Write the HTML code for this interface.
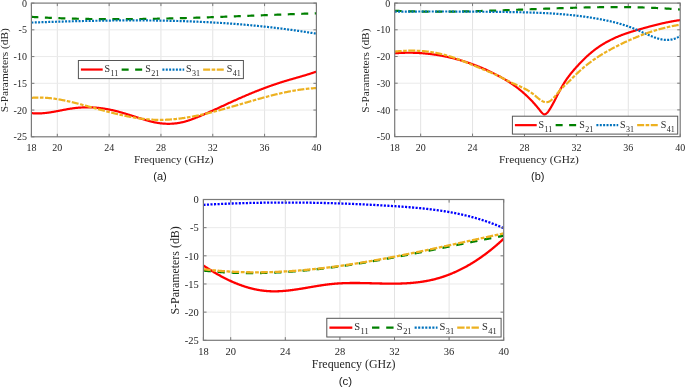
<!DOCTYPE html>
<html><head><meta charset="utf-8"><style>
html,body{margin:0;padding:0;background:#fff;}
body{width:685px;height:387px;overflow:hidden;}
svg{display:block;will-change:transform;}
.sf{font-family:"Liberation Serif",serif;fill:#262626;}
.ss{font-family:"Liberation Sans",sans-serif;fill:#1a1a1a;}
</style></head><body>
<svg width="685" height="387" viewBox="0 0 685 387">
<defs><clipPath id="clipa"><rect x="31.40" y="2.10" width="285.00" height="134.70"/></clipPath><clipPath id="clipb"><rect x="394.70" y="2.10" width="285.50" height="134.50"/></clipPath><clipPath id="clipc"><rect x="203.40" y="198.50" width="300.30" height="141.80"/></clipPath></defs>
<rect width="685" height="387" fill="#fff"/>
<path d="M57.31,3.10V136.80M109.13,3.10V136.80M160.95,3.10V136.80M212.76,3.10V136.80M264.58,3.10V136.80" stroke="#e3e3e3" stroke-width="1" fill="none"/>
<path d="M31.40,29.84H316.40M31.40,56.58H316.40M31.40,83.32H316.40M31.40,110.06H316.40" stroke="#eaeaea" stroke-width="1" fill="none"/>
<g clip-path="url(#clipa)">
<path d="M31.40,113.08 L31.90,113.14 L32.40,113.19 L32.90,113.24 L33.40,113.28 L33.90,113.31 L34.40,113.34 L34.90,113.37 L35.40,113.39 L35.90,113.41 L36.40,113.42 L36.90,113.43 L37.40,113.43 L37.90,113.43 L38.40,113.43 L38.90,113.42 L39.40,113.41 L39.90,113.39 L40.40,113.37 L40.90,113.35 L41.40,113.32 L41.90,113.29 L42.40,113.25 L42.90,113.22 L43.40,113.18 L43.90,113.13 L44.40,113.08 L44.90,113.03 L45.40,112.98 L45.90,112.93 L46.40,112.87 L46.90,112.81 L47.40,112.74 L47.90,112.68 L48.40,112.61 L48.90,112.54 L49.40,112.47 L49.90,112.39 L50.40,112.32 L50.90,112.24 L51.40,112.16 L51.90,112.08 L52.40,111.99 L52.90,111.91 L53.40,111.82 L53.90,111.73 L54.40,111.64 L54.90,111.55 L55.40,111.46 L55.90,111.37 L56.40,111.28 L56.90,111.19 L57.40,111.09 L57.90,111.00 L58.40,110.90 L58.90,110.81 L59.40,110.71 L59.90,110.61 L60.40,110.52 L60.90,110.42 L61.40,110.32 L61.90,110.23 L62.40,110.13 L62.90,110.04 L63.40,109.94 L63.90,109.85 L64.40,109.75 L64.90,109.66 L65.40,109.57 L65.90,109.47 L66.40,109.38 L66.90,109.29 L67.40,109.20 L67.90,109.12 L68.40,109.03 L68.90,108.95 L69.40,108.86 L69.90,108.78 L70.40,108.70 L70.90,108.62 L71.40,108.55 L71.90,108.47 L72.40,108.40 L72.90,108.33 L73.40,108.26 L73.90,108.20 L74.40,108.14 L74.90,108.08 L75.40,108.02 L75.90,107.96 L76.40,107.91 L76.90,107.86 L77.40,107.81 L77.90,107.76 L78.40,107.72 L78.90,107.68 L79.40,107.64 L79.90,107.60 L80.40,107.57 L80.90,107.53 L81.40,107.51 L81.90,107.48 L82.40,107.45 L82.90,107.43 L83.40,107.41 L83.90,107.39 L84.40,107.38 L84.90,107.36 L85.40,107.35 L85.90,107.34 L86.40,107.34 L86.90,107.34 L87.40,107.33 L87.90,107.33 L88.40,107.34 L88.90,107.34 L89.40,107.35 L89.90,107.36 L90.40,107.37 L90.90,107.39 L91.40,107.41 L91.90,107.43 L92.40,107.45 L92.90,107.47 L93.40,107.50 L93.90,107.53 L94.40,107.56 L94.90,107.59 L95.40,107.63 L95.90,107.67 L96.40,107.71 L96.90,107.75 L97.40,107.79 L97.90,107.84 L98.40,107.89 L98.90,107.94 L99.40,107.99 L99.90,108.05 L100.40,108.11 L100.90,108.17 L101.40,108.23 L101.90,108.30 L102.40,108.37 L102.90,108.44 L103.40,108.51 L103.90,108.58 L104.40,108.66 L104.90,108.74 L105.40,108.82 L105.90,108.90 L106.40,108.99 L106.90,109.07 L107.40,109.16 L107.90,109.26 L108.40,109.35 L108.90,109.45 L109.40,109.55 L109.90,109.65 L110.40,109.75 L110.90,109.86 L111.40,109.96 L111.90,110.07 L112.40,110.19 L112.90,110.30 L113.40,110.41 L113.90,110.53 L114.40,110.65 L114.90,110.77 L115.40,110.90 L115.90,111.02 L116.40,111.15 L116.90,111.28 L117.40,111.40 L117.90,111.54 L118.40,111.67 L118.90,111.80 L119.40,111.94 L119.90,112.08 L120.40,112.21 L120.90,112.35 L121.40,112.50 L121.90,112.64 L122.40,112.78 L122.90,112.93 L123.40,113.07 L123.90,113.22 L124.40,113.37 L124.90,113.52 L125.40,113.67 L125.90,113.82 L126.40,113.97 L126.90,114.12 L127.40,114.28 L127.90,114.43 L128.40,114.58 L128.90,114.74 L129.40,114.90 L129.90,115.05 L130.40,115.21 L130.90,115.37 L131.40,115.53 L131.90,115.69 L132.40,115.85 L132.90,116.00 L133.40,116.16 L133.90,116.32 L134.40,116.48 L134.90,116.65 L135.40,116.81 L135.90,116.97 L136.40,117.13 L136.90,117.29 L137.40,117.45 L137.90,117.61 L138.40,117.77 L138.90,117.93 L139.40,118.09 L139.90,118.25 L140.40,118.41 L140.90,118.57 L141.40,118.73 L141.90,118.89 L142.40,119.04 L142.90,119.20 L143.40,119.36 L143.90,119.51 L144.40,119.66 L144.90,119.82 L145.40,119.97 L145.90,120.11 L146.40,120.26 L146.90,120.41 L147.40,120.55 L147.90,120.69 L148.40,120.83 L148.90,120.97 L149.40,121.10 L149.90,121.24 L150.40,121.37 L150.90,121.50 L151.40,121.62 L151.90,121.74 L152.40,121.86 L152.90,121.98 L153.40,122.09 L153.90,122.20 L154.40,122.30 L154.90,122.41 L155.40,122.51 L155.90,122.60 L156.40,122.69 L156.90,122.78 L157.40,122.87 L157.90,122.95 L158.40,123.02 L158.90,123.10 L159.40,123.17 L159.90,123.24 L160.40,123.30 L160.90,123.36 L161.40,123.41 L161.90,123.46 L162.40,123.51 L162.90,123.56 L163.40,123.60 L163.90,123.64 L164.40,123.67 L164.90,123.70 L165.40,123.72 L165.90,123.74 L166.40,123.76 L166.90,123.78 L167.40,123.79 L167.90,123.79 L168.40,123.80 L168.90,123.79 L169.40,123.79 L169.90,123.78 L170.40,123.77 L170.90,123.75 L171.40,123.73 L171.90,123.70 L172.40,123.67 L172.90,123.64 L173.40,123.60 L173.90,123.56 L174.40,123.51 L174.90,123.46 L175.40,123.41 L175.90,123.35 L176.40,123.29 L176.90,123.22 L177.40,123.15 L177.90,123.08 L178.40,123.00 L178.90,122.91 L179.40,122.83 L179.90,122.74 L180.40,122.64 L180.90,122.54 L181.40,122.43 L181.90,122.32 L182.40,122.21 L182.90,122.09 L183.40,121.97 L183.90,121.85 L184.40,121.71 L184.90,121.58 L185.40,121.44 L185.90,121.30 L186.40,121.15 L186.90,121.00 L187.40,120.85 L187.90,120.69 L188.40,120.53 L188.90,120.36 L189.40,120.20 L189.90,120.03 L190.40,119.85 L190.90,119.68 L191.40,119.50 L191.90,119.32 L192.40,119.13 L192.90,118.95 L193.40,118.76 L193.90,118.57 L194.40,118.38 L194.90,118.18 L195.40,117.99 L195.90,117.79 L196.40,117.59 L196.90,117.39 L197.40,117.19 L197.90,116.98 L198.40,116.78 L198.90,116.57 L199.40,116.37 L199.90,116.16 L200.40,115.95 L200.90,115.74 L201.40,115.53 L201.90,115.32 L202.40,115.11 L202.90,114.89 L203.40,114.68 L203.90,114.47 L204.40,114.25 L204.90,114.03 L205.40,113.82 L205.90,113.60 L206.40,113.38 L206.90,113.16 L207.40,112.94 L207.90,112.72 L208.40,112.50 L208.90,112.27 L209.40,112.05 L209.90,111.83 L210.40,111.60 L210.90,111.38 L211.40,111.15 L211.90,110.93 L212.40,110.70 L212.90,110.48 L213.40,110.25 L213.90,110.02 L214.40,109.79 L214.90,109.56 L215.40,109.34 L215.90,109.11 L216.40,108.88 L216.90,108.65 L217.40,108.42 L217.90,108.19 L218.40,107.96 L218.90,107.73 L219.40,107.50 L219.90,107.27 L220.40,107.03 L220.90,106.80 L221.40,106.57 L221.90,106.34 L222.40,106.11 L222.90,105.88 L223.40,105.65 L223.90,105.41 L224.40,105.18 L224.90,104.95 L225.40,104.72 L225.90,104.49 L226.40,104.26 L226.90,104.03 L227.40,103.80 L227.90,103.57 L228.40,103.33 L228.90,103.10 L229.40,102.87 L229.90,102.64 L230.40,102.42 L230.90,102.19 L231.40,101.96 L231.90,101.73 L232.40,101.50 L232.90,101.27 L233.40,101.04 L233.90,100.82 L234.40,100.59 L234.90,100.37 L235.40,100.14 L235.90,99.91 L236.40,99.69 L236.90,99.47 L237.40,99.24 L237.90,99.02 L238.40,98.80 L238.90,98.58 L239.40,98.35 L239.90,98.13 L240.40,97.91 L240.90,97.69 L241.40,97.47 L241.90,97.26 L242.40,97.04 L242.90,96.82 L243.40,96.60 L243.90,96.39 L244.40,96.17 L244.90,95.96 L245.40,95.74 L245.90,95.53 L246.40,95.32 L246.90,95.10 L247.40,94.89 L247.90,94.68 L248.40,94.47 L248.90,94.26 L249.40,94.05 L249.90,93.84 L250.40,93.63 L250.90,93.43 L251.40,93.22 L251.90,93.01 L252.40,92.81 L252.90,92.60 L253.40,92.40 L253.90,92.20 L254.40,91.99 L254.90,91.79 L255.40,91.59 L255.90,91.39 L256.40,91.19 L256.90,90.99 L257.40,90.79 L257.90,90.60 L258.40,90.40 L258.90,90.20 L259.40,90.01 L259.90,89.81 L260.40,89.62 L260.90,89.43 L261.40,89.24 L261.90,89.04 L262.40,88.85 L262.90,88.66 L263.40,88.47 L263.90,88.29 L264.40,88.10 L264.90,87.91 L265.40,87.73 L265.90,87.54 L266.40,87.36 L266.90,87.17 L267.40,86.99 L267.90,86.81 L268.40,86.63 L268.90,86.45 L269.40,86.27 L269.90,86.09 L270.40,85.91 L270.90,85.73 L271.40,85.56 L271.90,85.38 L272.40,85.21 L272.90,85.04 L273.40,84.86 L273.90,84.69 L274.40,84.52 L274.90,84.35 L275.40,84.18 L275.90,84.02 L276.40,83.85 L276.90,83.68 L277.40,83.52 L277.90,83.35 L278.40,83.19 L278.90,83.03 L279.40,82.87 L279.90,82.71 L280.40,82.55 L280.90,82.39 L281.40,82.23 L281.90,82.07 L282.40,81.92 L282.90,81.76 L283.40,81.61 L283.90,81.46 L284.40,81.30 L284.90,81.15 L285.40,81.00 L285.90,80.85 L286.40,80.70 L286.90,80.55 L287.40,80.41 L287.90,80.26 L288.40,80.11 L288.90,79.97 L289.40,79.82 L289.90,79.67 L290.40,79.53 L290.90,79.39 L291.40,79.24 L291.90,79.10 L292.40,78.95 L292.90,78.81 L293.40,78.67 L293.90,78.52 L294.40,78.38 L294.90,78.24 L295.40,78.09 L295.90,77.95 L296.40,77.81 L296.90,77.66 L297.40,77.52 L297.90,77.38 L298.40,77.23 L298.90,77.09 L299.40,76.95 L299.90,76.80 L300.40,76.66 L300.90,76.51 L301.40,76.37 L301.90,76.22 L302.40,76.07 L302.90,75.93 L303.40,75.78 L303.90,75.63 L304.40,75.48 L304.90,75.33 L305.40,75.18 L305.90,75.03 L306.40,74.88 L306.90,74.72 L307.40,74.57 L307.90,74.42 L308.40,74.26 L308.90,74.11 L309.40,73.95 L309.90,73.79 L310.40,73.63 L310.90,73.47 L311.40,73.31 L311.90,73.15 L312.40,72.98 L312.90,72.82 L313.40,72.65 L313.90,72.48 L314.40,72.31 L314.90,72.14 L315.40,71.97 L315.90,71.80 L316.40,71.62" stroke="#ff0000" stroke-width="2.20" fill="none"/>
<path d="M31.40,16.87 L31.90,16.90 L32.40,16.93 L32.90,16.95 L33.40,16.98 L33.90,17.01 L34.40,17.04 L34.90,17.07 L35.40,17.10 L35.90,17.13 L36.40,17.15 L36.90,17.18 L37.40,17.21 L37.90,17.24 L38.40,17.26 L38.90,17.29 L39.40,17.32 L39.90,17.34 L40.40,17.37 L40.90,17.39 L41.40,17.42 L41.90,17.44 L42.40,17.47 L42.90,17.49 L43.40,17.52 L43.90,17.54 L44.40,17.57 L44.90,17.59 L45.40,17.62 L45.90,17.64 L46.40,17.66 L46.90,17.69 L47.40,17.71 L47.90,17.73 L48.40,17.76 L48.90,17.78 L49.40,17.80 L49.90,17.82 L50.40,17.85 L50.90,17.87 L51.40,17.89 L51.90,17.91 L52.40,17.93 L52.90,17.95 L53.40,17.97 L53.90,17.99 L54.40,18.01 L54.90,18.03 L55.40,18.05 L55.90,18.07 L56.40,18.09 L56.90,18.11 L57.40,18.13 L57.90,18.15 L58.40,18.17 L58.90,18.19 L59.40,18.21 L59.90,18.22 L60.40,18.24 L60.90,18.26 L61.40,18.28 L61.90,18.30 L62.40,18.31 L62.90,18.33 L63.40,18.35 L63.90,18.36 L64.40,18.38 L64.90,18.40 L65.40,18.41 L65.90,18.43 L66.40,18.44 L66.90,18.46 L67.40,18.47 L67.90,18.49 L68.40,18.51 L68.90,18.52 L69.40,18.53 L69.90,18.55 L70.40,18.56 L70.90,18.58 L71.40,18.59 L71.90,18.61 L72.40,18.62 L72.90,18.63 L73.40,18.65 L73.90,18.66 L74.40,18.67 L74.90,18.68 L75.40,18.70 L75.90,18.71 L76.40,18.72 L76.90,18.73 L77.40,18.74 L77.90,18.76 L78.40,18.77 L78.90,18.78 L79.40,18.79 L79.90,18.80 L80.40,18.81 L80.90,18.82 L81.40,18.83 L81.90,18.84 L82.40,18.85 L82.90,18.86 L83.40,18.87 L83.90,18.88 L84.40,18.89 L84.90,18.90 L85.40,18.91 L85.90,18.92 L86.40,18.93 L86.90,18.94 L87.40,18.95 L87.90,18.95 L88.40,18.96 L88.90,18.97 L89.40,18.98 L89.90,18.98 L90.40,18.99 L90.90,19.00 L91.40,19.01 L91.90,19.01 L92.40,19.02 L92.90,19.03 L93.40,19.03 L93.90,19.04 L94.40,19.05 L94.90,19.05 L95.40,19.06 L95.90,19.06 L96.40,19.07 L96.90,19.07 L97.40,19.08 L97.90,19.08 L98.40,19.09 L98.90,19.09 L99.40,19.10 L99.90,19.10 L100.40,19.11 L100.90,19.11 L101.40,19.12 L101.90,19.12 L102.40,19.12 L102.90,19.13 L103.40,19.13 L103.90,19.13 L104.40,19.14 L104.90,19.14 L105.40,19.14 L105.90,19.15 L106.40,19.15 L106.90,19.15 L107.40,19.15 L107.90,19.15 L108.40,19.16 L108.90,19.16 L109.40,19.16 L109.90,19.16 L110.40,19.16 L110.90,19.16 L111.40,19.17 L111.90,19.17 L112.40,19.17 L112.90,19.17 L113.40,19.17 L113.90,19.17 L114.40,19.17 L114.90,19.17 L115.40,19.17 L115.90,19.17 L116.40,19.17 L116.90,19.17 L117.40,19.17 L117.90,19.17 L118.40,19.17 L118.90,19.16 L119.40,19.16 L119.90,19.16 L120.40,19.16 L120.90,19.16 L121.40,19.16 L121.90,19.16 L122.40,19.15 L122.90,19.15 L123.40,19.15 L123.90,19.15 L124.40,19.15 L124.90,19.14 L125.40,19.14 L125.90,19.14 L126.40,19.13 L126.90,19.13 L127.40,19.13 L127.90,19.12 L128.40,19.12 L128.90,19.12 L129.40,19.11 L129.90,19.11 L130.40,19.11 L130.90,19.10 L131.40,19.10 L131.90,19.09 L132.40,19.09 L132.90,19.08 L133.40,19.08 L133.90,19.08 L134.40,19.07 L134.90,19.07 L135.40,19.06 L135.90,19.05 L136.40,19.05 L136.90,19.04 L137.40,19.04 L137.90,19.03 L138.40,19.03 L138.90,19.02 L139.40,19.01 L139.90,19.01 L140.40,19.00 L140.90,19.00 L141.40,18.99 L141.90,18.98 L142.40,18.98 L142.90,18.97 L143.40,18.96 L143.90,18.95 L144.40,18.95 L144.90,18.94 L145.40,18.93 L145.90,18.93 L146.40,18.92 L146.90,18.91 L147.40,18.90 L147.90,18.89 L148.40,18.89 L148.90,18.88 L149.40,18.87 L149.90,18.86 L150.40,18.85 L150.90,18.84 L151.40,18.84 L151.90,18.83 L152.40,18.82 L152.90,18.81 L153.40,18.80 L153.90,18.79 L154.40,18.78 L154.90,18.77 L155.40,18.76 L155.90,18.75 L156.40,18.74 L156.90,18.73 L157.40,18.72 L157.90,18.71 L158.40,18.70 L158.90,18.69 L159.40,18.68 L159.90,18.67 L160.40,18.66 L160.90,18.65 L161.40,18.64 L161.90,18.63 L162.40,18.62 L162.90,18.61 L163.40,18.60 L163.90,18.59 L164.40,18.58 L164.90,18.56 L165.40,18.55 L165.90,18.54 L166.40,18.53 L166.90,18.52 L167.40,18.51 L167.90,18.50 L168.40,18.48 L168.90,18.47 L169.40,18.46 L169.90,18.45 L170.40,18.44 L170.90,18.42 L171.40,18.41 L171.90,18.40 L172.40,18.39 L172.90,18.37 L173.40,18.36 L173.90,18.35 L174.40,18.33 L174.90,18.32 L175.40,18.31 L175.90,18.30 L176.40,18.28 L176.90,18.27 L177.40,18.26 L177.90,18.24 L178.40,18.23 L178.90,18.22 L179.40,18.20 L179.90,18.19 L180.40,18.17 L180.90,18.16 L181.40,18.15 L181.90,18.13 L182.40,18.12 L182.90,18.10 L183.40,18.09 L183.90,18.08 L184.40,18.06 L184.90,18.05 L185.40,18.03 L185.90,18.02 L186.40,18.00 L186.90,17.99 L187.40,17.97 L187.90,17.96 L188.40,17.94 L188.90,17.93 L189.40,17.91 L189.90,17.90 L190.40,17.88 L190.90,17.87 L191.40,17.85 L191.90,17.84 L192.40,17.82 L192.90,17.81 L193.40,17.79 L193.90,17.78 L194.40,17.76 L194.90,17.74 L195.40,17.73 L195.90,17.71 L196.40,17.70 L196.90,17.68 L197.40,17.66 L197.90,17.65 L198.40,17.63 L198.90,17.62 L199.40,17.60 L199.90,17.58 L200.40,17.57 L200.90,17.55 L201.40,17.53 L201.90,17.52 L202.40,17.50 L202.90,17.48 L203.40,17.47 L203.90,17.45 L204.40,17.43 L204.90,17.42 L205.40,17.40 L205.90,17.38 L206.40,17.37 L206.90,17.35 L207.40,17.33 L207.90,17.31 L208.40,17.30 L208.90,17.28 L209.40,17.26 L209.90,17.25 L210.40,17.23 L210.90,17.21 L211.40,17.19 L211.90,17.18 L212.40,17.16 L212.90,17.14 L213.40,17.12 L213.90,17.11 L214.40,17.09 L214.90,17.07 L215.40,17.05 L215.90,17.03 L216.40,17.02 L216.90,17.00 L217.40,16.98 L217.90,16.96 L218.40,16.94 L218.90,16.93 L219.40,16.91 L219.90,16.89 L220.40,16.87 L220.90,16.85 L221.40,16.84 L221.90,16.82 L222.40,16.80 L222.90,16.78 L223.40,16.76 L223.90,16.74 L224.40,16.73 L224.90,16.71 L225.40,16.69 L225.90,16.67 L226.40,16.65 L226.90,16.63 L227.40,16.61 L227.90,16.60 L228.40,16.58 L228.90,16.56 L229.40,16.54 L229.90,16.52 L230.40,16.50 L230.90,16.48 L231.40,16.46 L231.90,16.45 L232.40,16.43 L232.90,16.41 L233.40,16.39 L233.90,16.37 L234.40,16.35 L234.90,16.33 L235.40,16.31 L235.90,16.29 L236.40,16.27 L236.90,16.26 L237.40,16.24 L237.90,16.22 L238.40,16.20 L238.90,16.18 L239.40,16.16 L239.90,16.14 L240.40,16.12 L240.90,16.10 L241.40,16.08 L241.90,16.06 L242.40,16.04 L242.90,16.03 L243.40,16.01 L243.90,15.99 L244.40,15.97 L244.90,15.95 L245.40,15.93 L245.90,15.91 L246.40,15.89 L246.90,15.87 L247.40,15.85 L247.90,15.83 L248.40,15.81 L248.90,15.79 L249.40,15.77 L249.90,15.75 L250.40,15.73 L250.90,15.72 L251.40,15.70 L251.90,15.68 L252.40,15.66 L252.90,15.64 L253.40,15.62 L253.90,15.60 L254.40,15.58 L254.90,15.56 L255.40,15.54 L255.90,15.52 L256.40,15.50 L256.90,15.48 L257.40,15.46 L257.90,15.44 L258.40,15.42 L258.90,15.40 L259.40,15.38 L259.90,15.36 L260.40,15.35 L260.90,15.33 L261.40,15.31 L261.90,15.29 L262.40,15.27 L262.90,15.25 L263.40,15.23 L263.90,15.21 L264.40,15.19 L264.90,15.17 L265.40,15.15 L265.90,15.13 L266.40,15.11 L266.90,15.09 L267.40,15.07 L267.90,15.05 L268.40,15.04 L268.90,15.02 L269.40,15.00 L269.90,14.98 L270.40,14.96 L270.90,14.94 L271.40,14.92 L271.90,14.90 L272.40,14.88 L272.90,14.86 L273.40,14.84 L273.90,14.82 L274.40,14.80 L274.90,14.78 L275.40,14.77 L275.90,14.75 L276.40,14.73 L276.90,14.71 L277.40,14.69 L277.90,14.67 L278.40,14.65 L278.90,14.63 L279.40,14.61 L279.90,14.59 L280.40,14.58 L280.90,14.56 L281.40,14.54 L281.90,14.52 L282.40,14.50 L282.90,14.48 L283.40,14.46 L283.90,14.44 L284.40,14.43 L284.90,14.41 L285.40,14.39 L285.90,14.37 L286.40,14.35 L286.90,14.33 L287.40,14.31 L287.90,14.29 L288.40,14.28 L288.90,14.26 L289.40,14.24 L289.90,14.22 L290.40,14.20 L290.90,14.18 L291.40,14.17 L291.90,14.15 L292.40,14.13 L292.90,14.11 L293.40,14.09 L293.90,14.07 L294.40,14.06 L294.90,14.04 L295.40,14.02 L295.90,14.00 L296.40,13.98 L296.90,13.97 L297.40,13.95 L297.90,13.93 L298.40,13.91 L298.90,13.90 L299.40,13.88 L299.90,13.86 L300.40,13.84 L300.90,13.83 L301.40,13.81 L301.90,13.79 L302.40,13.77 L302.90,13.76 L303.40,13.74 L303.90,13.72 L304.40,13.70 L304.90,13.69 L305.40,13.67 L305.90,13.65 L306.40,13.63 L306.90,13.62 L307.40,13.60 L307.90,13.58 L308.40,13.57 L308.90,13.55 L309.40,13.53 L309.90,13.52 L310.40,13.50 L310.90,13.48 L311.40,13.47 L311.90,13.45 L312.40,13.43 L312.90,13.42 L313.40,13.40 L313.90,13.38 L314.40,13.37 L314.90,13.35 L315.40,13.34 L315.90,13.32 L316.40,13.30" stroke="#008000" stroke-width="2.20" fill="none" stroke-dasharray="7.00 6.50"/>
<path d="M31.40,22.56 L31.90,22.54 L32.40,22.52 L32.90,22.51 L33.40,22.49 L33.90,22.47 L34.40,22.45 L34.90,22.44 L35.40,22.42 L35.90,22.40 L36.40,22.38 L36.90,22.37 L37.40,22.35 L37.90,22.33 L38.40,22.32 L38.90,22.30 L39.40,22.28 L39.90,22.26 L40.40,22.25 L40.90,22.23 L41.40,22.21 L41.90,22.20 L42.40,22.18 L42.90,22.16 L43.40,22.15 L43.90,22.13 L44.40,22.11 L44.90,22.10 L45.40,22.08 L45.90,22.06 L46.40,22.05 L46.90,22.03 L47.40,22.01 L47.90,22.00 L48.40,21.98 L48.90,21.97 L49.40,21.95 L49.90,21.93 L50.40,21.92 L50.90,21.90 L51.40,21.89 L51.90,21.87 L52.40,21.85 L52.90,21.84 L53.40,21.82 L53.90,21.81 L54.40,21.79 L54.90,21.78 L55.40,21.76 L55.90,21.75 L56.40,21.73 L56.90,21.71 L57.40,21.70 L57.90,21.68 L58.40,21.67 L58.90,21.65 L59.40,21.64 L59.90,21.62 L60.40,21.61 L60.90,21.59 L61.40,21.58 L61.90,21.57 L62.40,21.55 L62.90,21.54 L63.40,21.52 L63.90,21.51 L64.40,21.49 L64.90,21.48 L65.40,21.47 L65.90,21.45 L66.40,21.44 L66.90,21.42 L67.40,21.41 L67.90,21.40 L68.40,21.38 L68.90,21.37 L69.40,21.35 L69.90,21.34 L70.40,21.33 L70.90,21.31 L71.40,21.30 L71.90,21.29 L72.40,21.27 L72.90,21.26 L73.40,21.25 L73.90,21.24 L74.40,21.22 L74.90,21.21 L75.40,21.20 L75.90,21.18 L76.40,21.17 L76.90,21.16 L77.40,21.15 L77.90,21.14 L78.40,21.12 L78.90,21.11 L79.40,21.10 L79.90,21.09 L80.40,21.08 L80.90,21.06 L81.40,21.05 L81.90,21.04 L82.40,21.03 L82.90,21.02 L83.40,21.01 L83.90,21.00 L84.40,20.98 L84.90,20.97 L85.40,20.96 L85.90,20.95 L86.40,20.94 L86.90,20.93 L87.40,20.92 L87.90,20.91 L88.40,20.90 L88.90,20.89 L89.40,20.88 L89.90,20.87 L90.40,20.86 L90.90,20.85 L91.40,20.84 L91.90,20.83 L92.40,20.82 L92.90,20.81 L93.40,20.80 L93.90,20.79 L94.40,20.78 L94.90,20.77 L95.40,20.76 L95.90,20.75 L96.40,20.74 L96.90,20.74 L97.40,20.73 L97.90,20.72 L98.40,20.71 L98.90,20.70 L99.40,20.69 L99.90,20.69 L100.40,20.68 L100.90,20.67 L101.40,20.66 L101.90,20.65 L102.40,20.65 L102.90,20.64 L103.40,20.63 L103.90,20.62 L104.40,20.62 L104.90,20.61 L105.40,20.60 L105.90,20.60 L106.40,20.59 L106.90,20.58 L107.40,20.58 L107.90,20.57 L108.40,20.56 L108.90,20.56 L109.40,20.55 L109.90,20.54 L110.40,20.54 L110.90,20.53 L111.40,20.53 L111.90,20.52 L112.40,20.52 L112.90,20.51 L113.40,20.51 L113.90,20.50 L114.40,20.50 L114.90,20.49 L115.40,20.49 L115.90,20.48 L116.40,20.48 L116.90,20.47 L117.40,20.47 L117.90,20.47 L118.40,20.46 L118.90,20.46 L119.40,20.45 L119.90,20.45 L120.40,20.45 L120.90,20.44 L121.40,20.44 L121.90,20.44 L122.40,20.43 L122.90,20.43 L123.40,20.43 L123.90,20.43 L124.40,20.42 L124.90,20.42 L125.40,20.42 L125.90,20.42 L126.40,20.41 L126.90,20.41 L127.40,20.41 L127.90,20.41 L128.40,20.41 L128.90,20.41 L129.40,20.41 L129.90,20.40 L130.40,20.40 L130.90,20.40 L131.40,20.40 L131.90,20.40 L132.40,20.40 L132.90,20.40 L133.40,20.40 L133.90,20.40 L134.40,20.40 L134.90,20.40 L135.40,20.40 L135.90,20.40 L136.40,20.40 L136.90,20.41 L137.40,20.41 L137.90,20.41 L138.40,20.41 L138.90,20.41 L139.40,20.41 L139.90,20.41 L140.40,20.42 L140.90,20.42 L141.40,20.42 L141.90,20.42 L142.40,20.42 L142.90,20.43 L143.40,20.43 L143.90,20.43 L144.40,20.44 L144.90,20.44 L145.40,20.44 L145.90,20.45 L146.40,20.45 L146.90,20.45 L147.40,20.46 L147.90,20.46 L148.40,20.47 L148.90,20.47 L149.40,20.48 L149.90,20.48 L150.40,20.48 L150.90,20.49 L151.40,20.49 L151.90,20.50 L152.40,20.51 L152.90,20.51 L153.40,20.52 L153.90,20.52 L154.40,20.53 L154.90,20.54 L155.40,20.54 L155.90,20.55 L156.40,20.56 L156.90,20.56 L157.40,20.57 L157.90,20.58 L158.40,20.58 L158.90,20.59 L159.40,20.60 L159.90,20.61 L160.40,20.62 L160.90,20.62 L161.40,20.63 L161.90,20.64 L162.40,20.65 L162.90,20.66 L163.40,20.67 L163.90,20.68 L164.40,20.69 L164.90,20.70 L165.40,20.71 L165.90,20.72 L166.40,20.73 L166.90,20.74 L167.40,20.75 L167.90,20.76 L168.40,20.77 L168.90,20.78 L169.40,20.79 L169.90,20.80 L170.40,20.81 L170.90,20.82 L171.40,20.84 L171.90,20.85 L172.40,20.86 L172.90,20.87 L173.40,20.89 L173.90,20.90 L174.40,20.91 L174.90,20.92 L175.40,20.94 L175.90,20.95 L176.40,20.96 L176.90,20.98 L177.40,20.99 L177.90,21.01 L178.40,21.02 L178.90,21.03 L179.40,21.05 L179.90,21.06 L180.40,21.08 L180.90,21.09 L181.40,21.11 L181.90,21.13 L182.40,21.14 L182.90,21.16 L183.40,21.17 L183.90,21.19 L184.40,21.21 L184.90,21.22 L185.40,21.24 L185.90,21.26 L186.40,21.27 L186.90,21.29 L187.40,21.31 L187.90,21.33 L188.40,21.35 L188.90,21.36 L189.40,21.38 L189.90,21.40 L190.40,21.42 L190.90,21.44 L191.40,21.46 L191.90,21.48 L192.40,21.50 L192.90,21.52 L193.40,21.54 L193.90,21.56 L194.40,21.58 L194.90,21.60 L195.40,21.62 L195.90,21.64 L196.40,21.66 L196.90,21.68 L197.40,21.70 L197.90,21.73 L198.40,21.75 L198.90,21.77 L199.40,21.79 L199.90,21.82 L200.40,21.84 L200.90,21.86 L201.40,21.88 L201.90,21.91 L202.40,21.93 L202.90,21.96 L203.40,21.98 L203.90,22.00 L204.40,22.03 L204.90,22.05 L205.40,22.08 L205.90,22.10 L206.40,22.13 L206.90,22.15 L207.40,22.18 L207.90,22.20 L208.40,22.23 L208.90,22.26 L209.40,22.28 L209.90,22.31 L210.40,22.34 L210.90,22.37 L211.40,22.39 L211.90,22.42 L212.40,22.45 L212.90,22.48 L213.40,22.50 L213.90,22.53 L214.40,22.56 L214.90,22.59 L215.40,22.62 L215.90,22.65 L216.40,22.68 L216.90,22.71 L217.40,22.74 L217.90,22.77 L218.40,22.80 L218.90,22.83 L219.40,22.86 L219.90,22.89 L220.40,22.92 L220.90,22.96 L221.40,22.99 L221.90,23.02 L222.40,23.05 L222.90,23.08 L223.40,23.12 L223.90,23.15 L224.40,23.18 L224.90,23.22 L225.40,23.25 L225.90,23.28 L226.40,23.32 L226.90,23.35 L227.40,23.39 L227.90,23.42 L228.40,23.46 L228.90,23.49 L229.40,23.53 L229.90,23.56 L230.40,23.60 L230.90,23.64 L231.40,23.67 L231.90,23.71 L232.40,23.75 L232.90,23.78 L233.40,23.82 L233.90,23.86 L234.40,23.90 L234.90,23.93 L235.40,23.97 L235.90,24.01 L236.40,24.05 L236.90,24.09 L237.40,24.13 L237.90,24.17 L238.40,24.21 L238.90,24.25 L239.40,24.29 L239.90,24.33 L240.40,24.37 L240.90,24.41 L241.40,24.45 L241.90,24.49 L242.40,24.53 L242.90,24.58 L243.40,24.62 L243.90,24.66 L244.40,24.70 L244.90,24.75 L245.40,24.79 L245.90,24.83 L246.40,24.88 L246.90,24.92 L247.40,24.96 L247.90,25.01 L248.40,25.05 L248.90,25.10 L249.40,25.14 L249.90,25.19 L250.40,25.23 L250.90,25.28 L251.40,25.33 L251.90,25.37 L252.40,25.42 L252.90,25.47 L253.40,25.51 L253.90,25.56 L254.40,25.61 L254.90,25.66 L255.40,25.71 L255.90,25.75 L256.40,25.80 L256.90,25.85 L257.40,25.90 L257.90,25.95 L258.40,26.00 L258.90,26.05 L259.40,26.10 L259.90,26.15 L260.40,26.20 L260.90,26.25 L261.40,26.31 L261.90,26.36 L262.40,26.41 L262.90,26.46 L263.40,26.51 L263.90,26.57 L264.40,26.62 L264.90,26.67 L265.40,26.73 L265.90,26.78 L266.40,26.84 L266.90,26.89 L267.40,26.94 L267.90,27.00 L268.40,27.05 L268.90,27.11 L269.40,27.17 L269.90,27.22 L270.40,27.28 L270.90,27.33 L271.40,27.39 L271.90,27.45 L272.40,27.51 L272.90,27.56 L273.40,27.62 L273.90,27.68 L274.40,27.74 L274.90,27.80 L275.40,27.86 L275.90,27.91 L276.40,27.97 L276.90,28.03 L277.40,28.09 L277.90,28.16 L278.40,28.22 L278.90,28.28 L279.40,28.34 L279.90,28.40 L280.40,28.46 L280.90,28.52 L281.40,28.59 L281.90,28.65 L282.40,28.71 L282.90,28.78 L283.40,28.84 L283.90,28.90 L284.40,28.97 L284.90,29.03 L285.40,29.10 L285.90,29.16 L286.40,29.23 L286.90,29.29 L287.40,29.36 L287.90,29.42 L288.40,29.49 L288.90,29.56 L289.40,29.62 L289.90,29.69 L290.40,29.76 L290.90,29.83 L291.40,29.90 L291.90,29.96 L292.40,30.03 L292.90,30.10 L293.40,30.17 L293.90,30.24 L294.40,30.31 L294.90,30.38 L295.40,30.45 L295.90,30.52 L296.40,30.59 L296.90,30.67 L297.40,30.74 L297.90,30.81 L298.40,30.88 L298.90,30.95 L299.40,31.03 L299.90,31.10 L300.40,31.17 L300.90,31.25 L301.40,31.32 L301.90,31.40 L302.40,31.47 L302.90,31.55 L303.40,31.62 L303.90,31.70 L304.40,31.77 L304.90,31.85 L305.40,31.93 L305.90,32.00 L306.40,32.08 L306.90,32.16 L307.40,32.24 L307.90,32.31 L308.40,32.39 L308.90,32.47 L309.40,32.55 L309.90,32.63 L310.40,32.71 L310.90,32.79 L311.40,32.87 L311.90,32.95 L312.40,33.03 L312.90,33.11 L313.40,33.20 L313.90,33.28 L314.40,33.36 L314.90,33.44 L315.40,33.53 L315.90,33.61 L316.40,33.69" stroke="#0072bd" stroke-width="2.20" fill="none" stroke-dasharray="2.00 1.37"/>
<path d="M31.40,97.87 L31.90,97.82 L32.40,97.78 L32.90,97.75 L33.40,97.72 L33.90,97.69 L34.40,97.66 L34.90,97.63 L35.40,97.61 L35.90,97.60 L36.40,97.58 L36.90,97.57 L37.40,97.56 L37.90,97.55 L38.40,97.55 L38.90,97.54 L39.40,97.55 L39.90,97.55 L40.40,97.56 L40.90,97.57 L41.40,97.58 L41.90,97.59 L42.40,97.61 L42.90,97.63 L43.40,97.65 L43.90,97.67 L44.40,97.70 L44.90,97.73 L45.40,97.76 L45.90,97.79 L46.40,97.83 L46.90,97.87 L47.40,97.91 L47.90,97.95 L48.40,98.00 L48.90,98.04 L49.40,98.09 L49.90,98.15 L50.40,98.20 L50.90,98.26 L51.40,98.31 L51.90,98.37 L52.40,98.43 L52.90,98.50 L53.40,98.56 L53.90,98.63 L54.40,98.70 L54.90,98.77 L55.40,98.85 L55.90,98.92 L56.40,99.00 L56.90,99.08 L57.40,99.16 L57.90,99.24 L58.40,99.32 L58.90,99.41 L59.40,99.50 L59.90,99.59 L60.40,99.68 L60.90,99.77 L61.40,99.86 L61.90,99.96 L62.40,100.05 L62.90,100.15 L63.40,100.25 L63.90,100.35 L64.40,100.45 L64.90,100.56 L65.40,100.66 L65.90,100.77 L66.40,100.88 L66.90,100.98 L67.40,101.09 L67.90,101.20 L68.40,101.32 L68.90,101.43 L69.40,101.54 L69.90,101.66 L70.40,101.78 L70.90,101.89 L71.40,102.01 L71.90,102.13 L72.40,102.25 L72.90,102.37 L73.40,102.50 L73.90,102.62 L74.40,102.74 L74.90,102.87 L75.40,102.99 L75.90,103.12 L76.40,103.25 L76.90,103.37 L77.40,103.50 L77.90,103.63 L78.40,103.76 L78.90,103.89 L79.40,104.02 L79.90,104.15 L80.40,104.29 L80.90,104.42 L81.40,104.55 L81.90,104.69 L82.40,104.82 L82.90,104.95 L83.40,105.09 L83.90,105.22 L84.40,105.36 L84.90,105.49 L85.40,105.63 L85.90,105.77 L86.40,105.90 L86.90,106.04 L87.40,106.18 L87.90,106.31 L88.40,106.45 L88.90,106.59 L89.40,106.72 L89.90,106.86 L90.40,107.00 L90.90,107.14 L91.40,107.27 L91.90,107.41 L92.40,107.55 L92.90,107.69 L93.40,107.82 L93.90,107.96 L94.40,108.10 L94.90,108.24 L95.40,108.37 L95.90,108.51 L96.40,108.65 L96.90,108.79 L97.40,108.92 L97.90,109.06 L98.40,109.20 L98.90,109.33 L99.40,109.47 L99.90,109.61 L100.40,109.74 L100.90,109.88 L101.40,110.01 L101.90,110.15 L102.40,110.28 L102.90,110.42 L103.40,110.55 L103.90,110.69 L104.40,110.82 L104.90,110.95 L105.40,111.09 L105.90,111.22 L106.40,111.35 L106.90,111.48 L107.40,111.61 L107.90,111.74 L108.40,111.87 L108.90,112.00 L109.40,112.13 L109.90,112.26 L110.40,112.39 L110.90,112.52 L111.40,112.65 L111.90,112.77 L112.40,112.90 L112.90,113.02 L113.40,113.15 L113.90,113.27 L114.40,113.40 L114.90,113.52 L115.40,113.64 L115.90,113.76 L116.40,113.88 L116.90,114.00 L117.40,114.12 L117.90,114.24 L118.40,114.36 L118.90,114.48 L119.40,114.59 L119.90,114.71 L120.40,114.82 L120.90,114.94 L121.40,115.05 L121.90,115.16 L122.40,115.27 L122.90,115.38 L123.40,115.49 L123.90,115.60 L124.40,115.70 L124.90,115.81 L125.40,115.92 L125.90,116.02 L126.40,116.12 L126.90,116.23 L127.40,116.33 L127.90,116.43 L128.40,116.53 L128.90,116.62 L129.40,116.72 L129.90,116.81 L130.40,116.91 L130.90,117.00 L131.40,117.09 L131.90,117.19 L132.40,117.27 L132.90,117.36 L133.40,117.45 L133.90,117.54 L134.40,117.62 L134.90,117.70 L135.40,117.79 L135.90,117.87 L136.40,117.95 L136.90,118.02 L137.40,118.10 L137.90,118.17 L138.40,118.25 L138.90,118.32 L139.40,118.39 L139.90,118.46 L140.40,118.53 L140.90,118.60 L141.40,118.66 L141.90,118.72 L142.40,118.79 L142.90,118.85 L143.40,118.90 L143.90,118.96 L144.40,119.02 L144.90,119.07 L145.40,119.12 L145.90,119.18 L146.40,119.22 L146.90,119.27 L147.40,119.32 L147.90,119.36 L148.40,119.40 L148.90,119.44 L149.40,119.48 L149.90,119.52 L150.40,119.56 L150.90,119.59 L151.40,119.62 L151.90,119.65 L152.40,119.68 L152.90,119.71 L153.40,119.73 L153.90,119.75 L154.40,119.77 L154.90,119.79 L155.40,119.81 L155.90,119.82 L156.40,119.84 L156.90,119.85 L157.40,119.86 L157.90,119.86 L158.40,119.87 L158.90,119.87 L159.40,119.88 L159.90,119.88 L160.40,119.87 L160.90,119.87 L161.40,119.87 L161.90,119.86 L162.40,119.85 L162.90,119.84 L163.40,119.83 L163.90,119.81 L164.40,119.80 L164.90,119.78 L165.40,119.76 L165.90,119.74 L166.40,119.72 L166.90,119.70 L167.40,119.67 L167.90,119.64 L168.40,119.62 L168.90,119.59 L169.40,119.55 L169.90,119.52 L170.40,119.49 L170.90,119.45 L171.40,119.41 L171.90,119.37 L172.40,119.33 L172.90,119.29 L173.40,119.24 L173.90,119.20 L174.40,119.15 L174.90,119.10 L175.40,119.05 L175.90,119.00 L176.40,118.95 L176.90,118.89 L177.40,118.84 L177.90,118.78 L178.40,118.72 L178.90,118.66 L179.40,118.60 L179.90,118.54 L180.40,118.47 L180.90,118.41 L181.40,118.34 L181.90,118.27 L182.40,118.20 L182.90,118.13 L183.40,118.06 L183.90,117.99 L184.40,117.91 L184.90,117.84 L185.40,117.76 L185.90,117.68 L186.40,117.60 L186.90,117.52 L187.40,117.44 L187.90,117.36 L188.40,117.27 L188.90,117.19 L189.40,117.10 L189.90,117.02 L190.40,116.93 L190.90,116.84 L191.40,116.75 L191.90,116.65 L192.40,116.56 L192.90,116.47 L193.40,116.37 L193.90,116.28 L194.40,116.18 L194.90,116.08 L195.40,115.98 L195.90,115.88 L196.40,115.78 L196.90,115.68 L197.40,115.57 L197.90,115.47 L198.40,115.36 L198.90,115.26 L199.40,115.15 L199.90,115.04 L200.40,114.93 L200.90,114.82 L201.40,114.71 L201.90,114.60 L202.40,114.49 L202.90,114.37 L203.40,114.26 L203.90,114.14 L204.40,114.03 L204.90,113.91 L205.40,113.79 L205.90,113.68 L206.40,113.56 L206.90,113.44 L207.40,113.32 L207.90,113.20 L208.40,113.07 L208.90,112.95 L209.40,112.83 L209.90,112.70 L210.40,112.58 L210.90,112.45 L211.40,112.33 L211.90,112.20 L212.40,112.07 L212.90,111.94 L213.40,111.81 L213.90,111.68 L214.40,111.55 L214.90,111.42 L215.40,111.29 L215.90,111.16 L216.40,111.03 L216.90,110.90 L217.40,110.76 L217.90,110.63 L218.40,110.49 L218.90,110.36 L219.40,110.22 L219.90,110.09 L220.40,109.95 L220.90,109.81 L221.40,109.68 L221.90,109.54 L222.40,109.40 L222.90,109.26 L223.40,109.12 L223.90,108.98 L224.40,108.84 L224.90,108.70 L225.40,108.56 L225.90,108.42 L226.40,108.28 L226.90,108.14 L227.40,108.00 L227.90,107.85 L228.40,107.71 L228.90,107.57 L229.40,107.43 L229.90,107.28 L230.40,107.14 L230.90,106.99 L231.40,106.85 L231.90,106.71 L232.40,106.56 L232.90,106.42 L233.40,106.27 L233.90,106.13 L234.40,105.98 L234.90,105.84 L235.40,105.69 L235.90,105.55 L236.40,105.40 L236.90,105.25 L237.40,105.11 L237.90,104.96 L238.40,104.81 L238.90,104.67 L239.40,104.52 L239.90,104.38 L240.40,104.23 L240.90,104.08 L241.40,103.94 L241.90,103.79 L242.40,103.64 L242.90,103.50 L243.40,103.35 L243.90,103.20 L244.40,103.06 L244.90,102.91 L245.40,102.77 L245.90,102.62 L246.40,102.47 L246.90,102.33 L247.40,102.18 L247.90,102.04 L248.40,101.89 L248.90,101.74 L249.40,101.60 L249.90,101.45 L250.40,101.31 L250.90,101.17 L251.40,101.02 L251.90,100.88 L252.40,100.73 L252.90,100.59 L253.40,100.45 L253.90,100.30 L254.40,100.16 L254.90,100.02 L255.40,99.87 L255.90,99.73 L256.40,99.59 L256.90,99.45 L257.40,99.31 L257.90,99.17 L258.40,99.03 L258.90,98.89 L259.40,98.75 L259.90,98.61 L260.40,98.47 L260.90,98.33 L261.40,98.19 L261.90,98.05 L262.40,97.92 L262.90,97.78 L263.40,97.64 L263.90,97.51 L264.40,97.37 L264.90,97.24 L265.40,97.10 L265.90,96.97 L266.40,96.84 L266.90,96.70 L267.40,96.57 L267.90,96.44 L268.40,96.31 L268.90,96.18 L269.40,96.05 L269.90,95.92 L270.40,95.79 L270.90,95.66 L271.40,95.54 L271.90,95.41 L272.40,95.28 L272.90,95.16 L273.40,95.03 L273.90,94.91 L274.40,94.79 L274.90,94.66 L275.40,94.54 L275.90,94.42 L276.40,94.30 L276.90,94.18 L277.40,94.06 L277.90,93.94 L278.40,93.83 L278.90,93.71 L279.40,93.59 L279.90,93.48 L280.40,93.37 L280.90,93.25 L281.40,93.14 L281.90,93.03 L282.40,92.92 L282.90,92.81 L283.40,92.70 L283.90,92.59 L284.40,92.49 L284.90,92.38 L285.40,92.28 L285.90,92.17 L286.40,92.07 L286.90,91.97 L287.40,91.87 L287.90,91.77 L288.40,91.67 L288.90,91.57 L289.40,91.47 L289.90,91.38 L290.40,91.28 L290.90,91.19 L291.40,91.10 L291.90,91.00 L292.40,90.91 L292.90,90.82 L293.40,90.74 L293.90,90.65 L294.40,90.56 L294.90,90.48 L295.40,90.39 L295.90,90.31 L296.40,90.23 L296.90,90.15 L297.40,90.07 L297.90,89.99 L298.40,89.92 L298.90,89.84 L299.40,89.77 L299.90,89.70 L300.40,89.62 L300.90,89.55 L301.40,89.49 L301.90,89.42 L302.40,89.35 L302.90,89.29 L303.40,89.22 L303.90,89.16 L304.40,89.10 L304.90,89.04 L305.40,88.98 L305.90,88.93 L306.40,88.87 L306.90,88.82 L307.40,88.77 L307.90,88.71 L308.40,88.67 L308.90,88.62 L309.40,88.57 L309.90,88.53 L310.40,88.48 L310.90,88.44 L311.40,88.40 L311.90,88.36 L312.40,88.32 L312.90,88.29 L313.40,88.25 L313.90,88.22 L314.40,88.19 L314.90,88.16 L315.40,88.13 L315.90,88.11 L316.40,88.08" stroke="#edb120" stroke-width="2.20" fill="none" stroke-dasharray="7.00 1.50 3.60 1.50"/>
</g>
<path d="M31.40,136.80v-3.00M31.40,3.10v3.00M57.31,136.80v-3.00M57.31,3.10v3.00M109.13,136.80v-3.00M109.13,3.10v3.00M160.95,136.80v-3.00M160.95,3.10v3.00M212.76,136.80v-3.00M212.76,3.10v3.00M264.58,136.80v-3.00M264.58,3.10v3.00M316.40,136.80v-3.00M316.40,3.10v3.00M31.40,3.10h3.00M316.40,3.10h-3.00M31.40,29.84h3.00M316.40,29.84h-3.00M31.40,56.58h3.00M316.40,56.58h-3.00M31.40,83.32h3.00M316.40,83.32h-3.00M31.40,110.06h3.00M316.40,110.06h-3.00M31.40,136.80h3.00M316.40,136.80h-3.00" stroke="#7a7a7a" stroke-width="1" fill="none"/>
<rect x="31.40" y="3.10" width="285.00" height="133.70" stroke="#7a7a7a" stroke-width="1.2" fill="none"/>
<text x="31.40" y="150.90" font-size="10.00" text-anchor="middle" class="sf">18</text>
<text x="57.31" y="150.90" font-size="10.00" text-anchor="middle" class="sf">20</text>
<text x="109.13" y="150.90" font-size="10.00" text-anchor="middle" class="sf">24</text>
<text x="160.95" y="150.90" font-size="10.00" text-anchor="middle" class="sf">28</text>
<text x="212.76" y="150.90" font-size="10.00" text-anchor="middle" class="sf">32</text>
<text x="264.58" y="150.90" font-size="10.00" text-anchor="middle" class="sf">36</text>
<text x="316.40" y="150.90" font-size="10.00" text-anchor="middle" class="sf">40</text>
<text x="26.90" y="6.70" font-size="10.00" text-anchor="end" class="sf">0</text>
<text x="26.90" y="33.44" font-size="10.00" text-anchor="end" class="sf">-5</text>
<text x="26.90" y="60.18" font-size="10.00" text-anchor="end" class="sf">-10</text>
<text x="26.90" y="86.92" font-size="10.00" text-anchor="end" class="sf">-15</text>
<text x="26.90" y="113.66" font-size="10.00" text-anchor="end" class="sf">-20</text>
<text x="26.90" y="140.40" font-size="10.00" text-anchor="end" class="sf">-25</text>
<text x="173.75" y="162.70" font-size="11.35" text-anchor="middle" class="sf">Frequency (GHz)</text>
<text transform="translate(7.90,70.30) rotate(-90)" x="0" y="0" font-size="11.35" text-anchor="middle" class="sf">S-Parameters (dB)</text>
<rect x="78.40" y="60.50" width="165.00" height="18.10" fill="#fff" stroke="#555" stroke-width="1"/>
<path d="M80.90,69.55h21.80" stroke="#ff0000" stroke-width="2.20" fill="none"/>
<text x="104.50" y="72.15" font-size="10.00" class="sf">S<tspan font-size="8.00" dx="0.50" dy="3.90">11</tspan></text>
<path d="M121.65,69.55h21.80" stroke="#008000" stroke-width="2.20" fill="none" stroke-dasharray="7.00 6.50"/>
<text x="145.25" y="72.15" font-size="10.00" class="sf">S<tspan font-size="8.00" dx="0.50" dy="3.90">21</tspan></text>
<path d="M162.40,69.55h21.80" stroke="#0072bd" stroke-width="2.20" fill="none" stroke-dasharray="2.00 1.37"/>
<text x="186.00" y="72.15" font-size="10.00" class="sf">S<tspan font-size="8.00" dx="0.50" dy="3.90">31</tspan></text>
<path d="M203.15,69.55h21.80" stroke="#edb120" stroke-width="2.20" fill="none" stroke-dasharray="7.00 1.50 3.60 1.50"/>
<text x="226.75" y="72.15" font-size="10.00" class="sf">S<tspan font-size="8.00" dx="0.50" dy="3.90">41</tspan></text>
<text x="160.00" y="180.00" font-size="11.00" text-anchor="middle" class="ss">(a)</text>
<path d="M420.65,3.10V136.60M472.56,3.10V136.60M524.47,3.10V136.60M576.38,3.10V136.60M628.29,3.10V136.60" stroke="#e3e3e3" stroke-width="1" fill="none"/>
<path d="M394.70,29.80H680.20M394.70,56.50H680.20M394.70,83.20H680.20M394.70,109.90H680.20" stroke="#eaeaea" stroke-width="1" fill="none"/>
<g clip-path="url(#clipb)">
<path d="M394.70,53.31 L395.20,53.27 L395.70,53.23 L396.20,53.19 L396.70,53.16 L397.20,53.12 L397.70,53.09 L398.20,53.06 L398.70,53.03 L399.20,53.00 L399.70,52.97 L400.20,52.95 L400.70,52.92 L401.20,52.90 L401.70,52.88 L402.20,52.86 L402.70,52.84 L403.20,52.83 L403.70,52.81 L404.20,52.80 L404.70,52.78 L405.20,52.77 L405.70,52.76 L406.20,52.75 L406.70,52.75 L407.20,52.74 L407.70,52.74 L408.20,52.73 L408.70,52.73 L409.20,52.73 L409.70,52.74 L410.20,52.74 L410.70,52.74 L411.20,52.75 L411.70,52.76 L412.20,52.76 L412.70,52.77 L413.20,52.79 L413.70,52.80 L414.20,52.81 L414.70,52.83 L415.20,52.85 L415.70,52.86 L416.20,52.88 L416.70,52.91 L417.20,52.93 L417.70,52.95 L418.20,52.98 L418.70,53.01 L419.20,53.03 L419.70,53.06 L420.20,53.10 L420.70,53.13 L421.20,53.16 L421.70,53.20 L422.20,53.24 L422.70,53.27 L423.20,53.31 L423.70,53.36 L424.20,53.40 L424.70,53.44 L425.20,53.49 L425.70,53.54 L426.20,53.58 L426.70,53.63 L427.20,53.68 L427.70,53.74 L428.20,53.79 L428.70,53.85 L429.20,53.90 L429.70,53.96 L430.20,54.02 L430.70,54.08 L431.20,54.15 L431.70,54.21 L432.20,54.27 L432.70,54.34 L433.20,54.41 L433.70,54.48 L434.20,54.55 L434.70,54.62 L435.20,54.70 L435.70,54.77 L436.20,54.85 L436.70,54.93 L437.20,55.01 L437.70,55.09 L438.20,55.17 L438.70,55.25 L439.20,55.34 L439.70,55.43 L440.20,55.51 L440.70,55.60 L441.20,55.69 L441.70,55.79 L442.20,55.88 L442.70,55.98 L443.20,56.07 L443.70,56.17 L444.20,56.27 L444.70,56.37 L445.20,56.47 L445.70,56.58 L446.20,56.68 L446.70,56.79 L447.20,56.90 L447.70,57.01 L448.20,57.12 L448.70,57.23 L449.20,57.34 L449.70,57.46 L450.20,57.57 L450.70,57.69 L451.20,57.81 L451.70,57.93 L452.20,58.05 L452.70,58.18 L453.20,58.30 L453.70,58.43 L454.20,58.55 L454.70,58.68 L455.20,58.81 L455.70,58.95 L456.20,59.08 L456.70,59.21 L457.20,59.35 L457.70,59.49 L458.20,59.63 L458.70,59.77 L459.20,59.91 L459.70,60.05 L460.20,60.20 L460.70,60.34 L461.20,60.49 L461.70,60.64 L462.20,60.79 L462.70,60.94 L463.20,61.10 L463.70,61.25 L464.20,61.41 L464.70,61.57 L465.20,61.72 L465.70,61.89 L466.20,62.05 L466.70,62.21 L467.20,62.38 L467.70,62.54 L468.20,62.71 L468.70,62.88 L469.20,63.05 L469.70,63.23 L470.20,63.40 L470.70,63.58 L471.20,63.75 L471.70,63.93 L472.20,64.11 L472.70,64.29 L473.20,64.48 L473.70,64.66 L474.20,64.85 L474.70,65.04 L475.20,65.23 L475.70,65.42 L476.20,65.61 L476.70,65.80 L477.20,66.00 L477.70,66.20 L478.20,66.40 L478.70,66.60 L479.20,66.80 L479.70,67.00 L480.20,67.21 L480.70,67.41 L481.20,67.62 L481.70,67.83 L482.20,68.05 L482.70,68.26 L483.20,68.47 L483.70,68.69 L484.20,68.91 L484.70,69.13 L485.20,69.35 L485.70,69.57 L486.20,69.80 L486.70,70.02 L487.20,70.25 L487.70,70.48 L488.20,70.71 L488.70,70.95 L489.20,71.18 L489.70,71.42 L490.20,71.65 L490.70,71.89 L491.20,72.13 L491.70,72.38 L492.20,72.62 L492.70,72.87 L493.20,73.12 L493.70,73.37 L494.20,73.62 L494.70,73.87 L495.20,74.12 L495.70,74.38 L496.20,74.64 L496.70,74.90 L497.20,75.16 L497.70,75.42 L498.20,75.69 L498.70,75.96 L499.20,76.23 L499.70,76.50 L500.20,76.77 L500.70,77.05 L501.20,77.32 L501.70,77.60 L502.20,77.88 L502.70,78.17 L503.20,78.46 L503.70,78.75 L504.20,79.04 L504.70,79.33 L505.20,79.63 L505.70,79.93 L506.20,80.23 L506.70,80.54 L507.20,80.85 L507.70,81.16 L508.20,81.47 L508.70,81.79 L509.20,82.11 L509.70,82.44 L510.20,82.76 L510.70,83.09 L511.20,83.43 L511.70,83.77 L512.20,84.11 L512.70,84.45 L513.20,84.80 L513.70,85.15 L514.20,85.51 L514.70,85.87 L515.20,86.23 L515.70,86.60 L516.20,86.97 L516.70,87.35 L517.20,87.73 L517.70,88.11 L518.20,88.50 L518.70,88.89 L519.20,89.29 L519.70,89.69 L520.20,90.09 L520.70,90.50 L521.20,90.92 L521.70,91.34 L522.20,91.76 L522.70,92.19 L523.20,92.63 L523.70,93.07 L524.20,93.51 L524.70,93.96 L525.20,94.41 L525.70,94.87 L526.20,95.34 L526.70,95.81 L527.20,96.28 L527.70,96.76 L528.20,97.25 L528.70,97.74 L529.20,98.23 L529.70,98.74 L530.20,99.24 L530.70,99.76 L531.20,100.28 L531.70,100.80 L532.20,101.34 L532.70,101.87 L533.20,102.42 L533.70,102.97 L534.20,103.52 L534.70,104.08 L535.20,104.65 L535.70,105.23 L536.20,105.81 L536.70,106.40 L537.20,106.99 L537.70,107.59 L538.20,108.20 L538.70,108.81 L539.20,109.43 L539.70,110.06 L540.20,110.70 L540.70,111.33 L541.20,111.95 L541.70,112.53 L542.20,113.07 L542.70,113.53 L543.20,113.92 L543.70,114.20 L544.20,114.36 L544.70,114.39 L545.20,114.29 L545.70,114.07 L546.20,113.74 L546.70,113.31 L547.20,112.79 L547.70,112.20 L548.20,111.55 L548.70,110.86 L549.20,110.12 L549.70,109.35 L550.20,108.56 L550.70,107.74 L551.20,106.89 L551.70,106.02 L552.20,105.13 L552.70,104.22 L553.20,103.30 L553.70,102.36 L554.20,101.41 L554.70,100.45 L555.20,99.48 L555.70,98.51 L556.20,97.53 L556.70,96.55 L557.20,95.57 L557.70,94.59 L558.20,93.62 L558.70,92.65 L559.20,91.69 L559.70,90.74 L560.20,89.81 L560.70,88.89 L561.20,87.99 L561.70,87.10 L562.20,86.23 L562.70,85.39 L563.20,84.55 L563.70,83.74 L564.20,82.94 L564.70,82.15 L565.20,81.38 L565.70,80.63 L566.20,79.89 L566.70,79.16 L567.20,78.45 L567.70,77.75 L568.20,77.06 L568.70,76.38 L569.20,75.72 L569.70,75.06 L570.20,74.42 L570.70,73.78 L571.20,73.16 L571.70,72.54 L572.20,71.94 L572.70,71.34 L573.20,70.74 L573.70,70.16 L574.20,69.58 L574.70,69.01 L575.20,68.44 L575.70,67.88 L576.20,67.32 L576.70,66.77 L577.20,66.22 L577.70,65.68 L578.20,65.14 L578.70,64.60 L579.20,64.07 L579.70,63.54 L580.20,63.01 L580.70,62.49 L581.20,61.97 L581.70,61.46 L582.20,60.95 L582.70,60.44 L583.20,59.94 L583.70,59.44 L584.20,58.95 L584.70,58.47 L585.20,57.99 L585.70,57.51 L586.20,57.04 L586.70,56.57 L587.20,56.11 L587.70,55.66 L588.20,55.21 L588.70,54.76 L589.20,54.32 L589.70,53.89 L590.20,53.46 L590.70,53.04 L591.20,52.62 L591.70,52.21 L592.20,51.80 L592.70,51.40 L593.20,51.00 L593.70,50.61 L594.20,50.22 L594.70,49.84 L595.20,49.46 L595.70,49.09 L596.20,48.72 L596.70,48.36 L597.20,48.00 L597.70,47.65 L598.20,47.30 L598.70,46.95 L599.20,46.61 L599.70,46.27 L600.20,45.94 L600.70,45.62 L601.20,45.29 L601.70,44.97 L602.20,44.66 L602.70,44.35 L603.20,44.04 L603.70,43.74 L604.20,43.44 L604.70,43.14 L605.20,42.85 L605.70,42.57 L606.20,42.28 L606.70,42.00 L607.20,41.73 L607.70,41.45 L608.20,41.19 L608.70,40.92 L609.20,40.66 L609.70,40.40 L610.20,40.14 L610.70,39.89 L611.20,39.64 L611.70,39.40 L612.20,39.16 L612.70,38.92 L613.20,38.68 L613.70,38.45 L614.20,38.22 L614.70,37.99 L615.20,37.76 L615.70,37.54 L616.20,37.32 L616.70,37.11 L617.20,36.89 L617.70,36.68 L618.20,36.47 L618.70,36.27 L619.20,36.07 L619.70,35.87 L620.20,35.67 L620.70,35.47 L621.20,35.28 L621.70,35.09 L622.20,34.90 L622.70,34.71 L623.20,34.52 L623.70,34.34 L624.20,34.16 L624.70,33.98 L625.20,33.80 L625.70,33.63 L626.20,33.45 L626.70,33.28 L627.20,33.11 L627.70,32.95 L628.20,32.78 L628.70,32.61 L629.20,32.45 L629.70,32.29 L630.20,32.13 L630.70,31.97 L631.20,31.81 L631.70,31.65 L632.20,31.50 L632.70,31.35 L633.20,31.19 L633.70,31.04 L634.20,30.89 L634.70,30.74 L635.20,30.59 L635.70,30.45 L636.20,30.30 L636.70,30.15 L637.20,30.01 L637.70,29.86 L638.20,29.72 L638.70,29.58 L639.20,29.43 L639.70,29.29 L640.20,29.15 L640.70,29.01 L641.20,28.87 L641.70,28.73 L642.20,28.59 L642.70,28.45 L643.20,28.31 L643.70,28.17 L644.20,28.03 L644.70,27.90 L645.20,27.76 L645.70,27.62 L646.20,27.48 L646.70,27.35 L647.20,27.21 L647.70,27.08 L648.20,26.94 L648.70,26.81 L649.20,26.67 L649.70,26.54 L650.20,26.40 L650.70,26.27 L651.20,26.14 L651.70,26.01 L652.20,25.88 L652.70,25.75 L653.20,25.62 L653.70,25.49 L654.20,25.36 L654.70,25.23 L655.20,25.11 L655.70,24.98 L656.20,24.86 L656.70,24.73 L657.20,24.61 L657.70,24.48 L658.20,24.36 L658.70,24.24 L659.20,24.12 L659.70,24.00 L660.20,23.88 L660.70,23.77 L661.20,23.65 L661.70,23.53 L662.20,23.42 L662.70,23.30 L663.20,23.19 L663.70,23.08 L664.20,22.97 L664.70,22.86 L665.20,22.75 L665.70,22.65 L666.20,22.54 L666.70,22.43 L667.20,22.33 L667.70,22.23 L668.20,22.13 L668.70,22.03 L669.20,21.93 L669.70,21.83 L670.20,21.73 L670.70,21.64 L671.20,21.55 L671.70,21.45 L672.20,21.36 L672.70,21.27 L673.20,21.18 L673.70,21.10 L674.20,21.01 L674.70,20.93 L675.20,20.85 L675.70,20.77 L676.20,20.69 L676.70,20.61 L677.20,20.53 L677.70,20.46 L678.20,20.38 L678.70,20.31 L679.20,20.24 L679.70,20.17 L680.20,20.11 L680.20,20.11" stroke="#ff0000" stroke-width="2.20" fill="none"/>
<path d="M394.70,10.77 L395.20,10.79 L395.70,10.81 L396.20,10.83 L396.70,10.86 L397.20,10.88 L397.70,10.90 L398.20,10.92 L398.70,10.94 L399.20,10.96 L399.70,10.98 L400.20,11.00 L400.70,11.02 L401.20,11.03 L401.70,11.05 L402.20,11.07 L402.70,11.09 L403.20,11.11 L403.70,11.12 L404.20,11.14 L404.70,11.16 L405.20,11.17 L405.70,11.19 L406.20,11.20 L406.70,11.22 L407.20,11.23 L407.70,11.25 L408.20,11.26 L408.70,11.28 L409.20,11.29 L409.70,11.31 L410.20,11.32 L410.70,11.33 L411.20,11.35 L411.70,11.36 L412.20,11.37 L412.70,11.38 L413.20,11.39 L413.70,11.41 L414.20,11.42 L414.70,11.43 L415.20,11.44 L415.70,11.45 L416.20,11.46 L416.70,11.47 L417.20,11.48 L417.70,11.49 L418.20,11.50 L418.70,11.51 L419.20,11.52 L419.70,11.52 L420.20,11.53 L420.70,11.54 L421.20,11.55 L421.70,11.55 L422.20,11.56 L422.70,11.57 L423.20,11.58 L423.70,11.58 L424.20,11.59 L424.70,11.59 L425.20,11.60 L425.70,11.60 L426.20,11.61 L426.70,11.61 L427.20,11.62 L427.70,11.62 L428.20,11.63 L428.70,11.63 L429.20,11.64 L429.70,11.64 L430.20,11.64 L430.70,11.65 L431.20,11.65 L431.70,11.65 L432.20,11.65 L432.70,11.66 L433.20,11.66 L433.70,11.66 L434.20,11.66 L434.70,11.66 L435.20,11.66 L435.70,11.66 L436.20,11.66 L436.70,11.66 L437.20,11.66 L437.70,11.66 L438.20,11.66 L438.70,11.66 L439.20,11.66 L439.70,11.66 L440.20,11.66 L440.70,11.66 L441.20,11.66 L441.70,11.66 L442.20,11.65 L442.70,11.65 L443.20,11.65 L443.70,11.65 L444.20,11.64 L444.70,11.64 L445.20,11.64 L445.70,11.64 L446.20,11.63 L446.70,11.63 L447.20,11.62 L447.70,11.62 L448.20,11.62 L448.70,11.61 L449.20,11.61 L449.70,11.60 L450.20,11.60 L450.70,11.59 L451.20,11.59 L451.70,11.58 L452.20,11.58 L452.70,11.57 L453.20,11.56 L453.70,11.56 L454.20,11.55 L454.70,11.54 L455.20,11.54 L455.70,11.53 L456.20,11.52 L456.70,11.52 L457.20,11.51 L457.70,11.50 L458.20,11.49 L458.70,11.48 L459.20,11.48 L459.70,11.47 L460.20,11.46 L460.70,11.45 L461.20,11.44 L461.70,11.43 L462.20,11.42 L462.70,11.42 L463.20,11.41 L463.70,11.40 L464.20,11.39 L464.70,11.38 L465.20,11.37 L465.70,11.36 L466.20,11.35 L466.70,11.34 L467.20,11.33 L467.70,11.32 L468.20,11.30 L468.70,11.29 L469.20,11.28 L469.70,11.27 L470.20,11.26 L470.70,11.25 L471.20,11.24 L471.70,11.22 L472.20,11.21 L472.70,11.20 L473.20,11.19 L473.70,11.18 L474.20,11.16 L474.70,11.15 L475.20,11.14 L475.70,11.13 L476.20,11.11 L476.70,11.10 L477.20,11.09 L477.70,11.07 L478.20,11.06 L478.70,11.05 L479.20,11.03 L479.70,11.02 L480.20,11.01 L480.70,10.99 L481.20,10.98 L481.70,10.96 L482.20,10.95 L482.70,10.93 L483.20,10.92 L483.70,10.91 L484.20,10.89 L484.70,10.88 L485.20,10.86 L485.70,10.85 L486.20,10.83 L486.70,10.82 L487.20,10.80 L487.70,10.78 L488.20,10.77 L488.70,10.75 L489.20,10.74 L489.70,10.72 L490.20,10.71 L490.70,10.69 L491.20,10.67 L491.70,10.66 L492.20,10.64 L492.70,10.63 L493.20,10.61 L493.70,10.59 L494.20,10.58 L494.70,10.56 L495.20,10.54 L495.70,10.53 L496.20,10.51 L496.70,10.49 L497.20,10.48 L497.70,10.46 L498.20,10.44 L498.70,10.42 L499.20,10.41 L499.70,10.39 L500.20,10.37 L500.70,10.36 L501.20,10.34 L501.70,10.32 L502.20,10.30 L502.70,10.28 L503.20,10.27 L503.70,10.25 L504.20,10.23 L504.70,10.21 L505.20,10.20 L505.70,10.18 L506.20,10.16 L506.70,10.14 L507.20,10.12 L507.70,10.11 L508.20,10.09 L508.70,10.07 L509.20,10.05 L509.70,10.03 L510.20,10.01 L510.70,10.00 L511.20,9.98 L511.70,9.96 L512.20,9.94 L512.70,9.92 L513.20,9.90 L513.70,9.88 L514.20,9.87 L514.70,9.85 L515.20,9.83 L515.70,9.81 L516.20,9.79 L516.70,9.77 L517.20,9.75 L517.70,9.73 L518.20,9.71 L518.70,9.70 L519.20,9.68 L519.70,9.66 L520.20,9.64 L520.70,9.62 L521.20,9.60 L521.70,9.58 L522.20,9.56 L522.70,9.54 L523.20,9.52 L523.70,9.51 L524.20,9.49 L524.70,9.47 L525.20,9.45 L525.70,9.43 L526.20,9.41 L526.70,9.39 L527.20,9.37 L527.70,9.35 L528.20,9.33 L528.70,9.31 L529.20,9.30 L529.70,9.28 L530.20,9.26 L530.70,9.24 L531.20,9.22 L531.70,9.20 L532.20,9.18 L532.70,9.16 L533.20,9.14 L533.70,9.12 L534.20,9.11 L534.70,9.09 L535.20,9.07 L535.70,9.05 L536.20,9.03 L536.70,9.01 L537.20,8.99 L537.70,8.97 L538.20,8.95 L538.70,8.94 L539.20,8.92 L539.70,8.90 L540.20,8.88 L540.70,8.86 L541.20,8.84 L541.70,8.82 L542.20,8.80 L542.70,8.79 L543.20,8.77 L543.70,8.75 L544.20,8.73 L544.70,8.71 L545.20,8.69 L545.70,8.68 L546.20,8.66 L546.70,8.64 L547.20,8.62 L547.70,8.60 L548.20,8.59 L548.70,8.57 L549.20,8.55 L549.70,8.53 L550.20,8.51 L550.70,8.50 L551.20,8.48 L551.70,8.46 L552.20,8.44 L552.70,8.43 L553.20,8.41 L553.70,8.39 L554.20,8.37 L554.70,8.36 L555.20,8.34 L555.70,8.32 L556.20,8.30 L556.70,8.29 L557.20,8.27 L557.70,8.25 L558.20,8.24 L558.70,8.22 L559.20,8.20 L559.70,8.19 L560.20,8.17 L560.70,8.15 L561.20,8.14 L561.70,8.12 L562.20,8.10 L562.70,8.09 L563.20,8.07 L563.70,8.06 L564.20,8.04 L564.70,8.03 L565.20,8.01 L565.70,7.99 L566.20,7.98 L566.70,7.96 L567.20,7.95 L567.70,7.93 L568.20,7.92 L568.70,7.90 L569.20,7.89 L569.70,7.87 L570.20,7.86 L570.70,7.84 L571.20,7.83 L571.70,7.81 L572.20,7.80 L572.70,7.79 L573.20,7.77 L573.70,7.76 L574.20,7.74 L574.70,7.73 L575.20,7.72 L575.70,7.70 L576.20,7.69 L576.70,7.68 L577.20,7.66 L577.70,7.65 L578.20,7.64 L578.70,7.63 L579.20,7.61 L579.70,7.60 L580.20,7.59 L580.70,7.58 L581.20,7.56 L581.70,7.55 L582.20,7.54 L582.70,7.53 L583.20,7.52 L583.70,7.50 L584.20,7.49 L584.70,7.48 L585.20,7.47 L585.70,7.46 L586.20,7.45 L586.70,7.44 L587.20,7.43 L587.70,7.42 L588.20,7.41 L588.70,7.40 L589.20,7.39 L589.70,7.38 L590.20,7.37 L590.70,7.36 L591.20,7.35 L591.70,7.34 L592.20,7.33 L592.70,7.32 L593.20,7.31 L593.70,7.30 L594.20,7.30 L594.70,7.29 L595.20,7.28 L595.70,7.27 L596.20,7.26 L596.70,7.26 L597.20,7.25 L597.70,7.24 L598.20,7.24 L598.70,7.23 L599.20,7.22 L599.70,7.22 L600.20,7.21 L600.70,7.20 L601.20,7.20 L601.70,7.19 L602.20,7.18 L602.70,7.18 L603.20,7.17 L603.70,7.17 L604.20,7.16 L604.70,7.16 L605.20,7.15 L605.70,7.15 L606.20,7.15 L606.70,7.14 L607.20,7.14 L607.70,7.13 L608.20,7.13 L608.70,7.13 L609.20,7.12 L609.70,7.12 L610.20,7.12 L610.70,7.12 L611.20,7.12 L611.70,7.11 L612.20,7.11 L612.70,7.11 L613.20,7.11 L613.70,7.11 L614.20,7.11 L614.70,7.11 L615.20,7.11 L615.70,7.11 L616.20,7.11 L616.70,7.11 L617.20,7.11 L617.70,7.11 L618.20,7.11 L618.70,7.11 L619.20,7.11 L619.70,7.11 L620.20,7.11 L620.70,7.12 L621.20,7.12 L621.70,7.12 L622.20,7.12 L622.70,7.13 L623.20,7.13 L623.70,7.13 L624.20,7.14 L624.70,7.14 L625.20,7.15 L625.70,7.15 L626.20,7.16 L626.70,7.16 L627.20,7.17 L627.70,7.17 L628.20,7.18 L628.70,7.18 L629.20,7.19 L629.70,7.20 L630.20,7.20 L630.70,7.21 L631.20,7.22 L631.70,7.23 L632.20,7.23 L632.70,7.24 L633.20,7.25 L633.70,7.26 L634.20,7.27 L634.70,7.28 L635.20,7.29 L635.70,7.30 L636.20,7.31 L636.70,7.32 L637.20,7.33 L637.70,7.34 L638.20,7.35 L638.70,7.37 L639.20,7.38 L639.70,7.39 L640.20,7.40 L640.70,7.42 L641.20,7.43 L641.70,7.44 L642.20,7.46 L642.70,7.47 L643.20,7.49 L643.70,7.50 L644.20,7.52 L644.70,7.53 L645.20,7.55 L645.70,7.56 L646.20,7.58 L646.70,7.60 L647.20,7.61 L647.70,7.63 L648.20,7.65 L648.70,7.67 L649.20,7.69 L649.70,7.71 L650.20,7.72 L650.70,7.74 L651.20,7.76 L651.70,7.78 L652.20,7.80 L652.70,7.83 L653.20,7.85 L653.70,7.87 L654.20,7.89 L654.70,7.91 L655.20,7.94 L655.70,7.96 L656.20,7.98 L656.70,8.01 L657.20,8.03 L657.70,8.05 L658.20,8.08 L658.70,8.10 L659.20,8.13 L659.70,8.16 L660.20,8.18 L660.70,8.21 L661.20,8.24 L661.70,8.26 L662.20,8.29 L662.70,8.32 L663.20,8.35 L663.70,8.38 L664.20,8.41 L664.70,8.43 L665.20,8.46 L665.70,8.50 L666.20,8.53 L666.70,8.56 L667.20,8.59 L667.70,8.62 L668.20,8.65 L668.70,8.69 L669.20,8.72 L669.70,8.75 L670.20,8.79 L670.70,8.82 L671.20,8.86 L671.70,8.89 L672.20,8.93 L672.70,8.96 L673.20,9.00 L673.70,9.04 L674.20,9.07 L674.70,9.11 L675.20,9.15 L675.70,9.19 L676.20,9.23 L676.70,9.27 L677.20,9.31 L677.70,9.35 L678.20,9.39 L678.70,9.43 L679.20,9.47 L679.70,9.51 L680.20,9.55 L680.20,9.55" stroke="#008000" stroke-width="2.20" fill="none" stroke-dasharray="7.00 6.50"/>
<path d="M394.70,11.74 L395.20,11.73 L395.70,11.72 L396.20,11.72 L396.70,11.71 L397.20,11.71 L397.70,11.70 L398.20,11.69 L398.70,11.69 L399.20,11.68 L399.70,11.68 L400.20,11.67 L400.70,11.67 L401.20,11.66 L401.70,11.65 L402.20,11.65 L402.70,11.64 L403.20,11.64 L403.70,11.63 L404.20,11.63 L404.70,11.62 L405.20,11.62 L405.70,11.62 L406.20,11.61 L406.70,11.61 L407.20,11.60 L407.70,11.60 L408.20,11.59 L408.70,11.59 L409.20,11.58 L409.70,11.58 L410.20,11.58 L410.70,11.57 L411.20,11.57 L411.70,11.57 L412.20,11.56 L412.70,11.56 L413.20,11.55 L413.70,11.55 L414.20,11.55 L414.70,11.54 L415.20,11.54 L415.70,11.54 L416.20,11.54 L416.70,11.53 L417.20,11.53 L417.70,11.53 L418.20,11.52 L418.70,11.52 L419.20,11.52 L419.70,11.52 L420.20,11.51 L420.70,11.51 L421.20,11.51 L421.70,11.51 L422.20,11.51 L422.70,11.50 L423.20,11.50 L423.70,11.50 L424.20,11.50 L424.70,11.50 L425.20,11.49 L425.70,11.49 L426.20,11.49 L426.70,11.49 L427.20,11.49 L427.70,11.49 L428.20,11.49 L428.70,11.49 L429.20,11.48 L429.70,11.48 L430.20,11.48 L430.70,11.48 L431.20,11.48 L431.70,11.48 L432.20,11.48 L432.70,11.48 L433.20,11.48 L433.70,11.48 L434.20,11.48 L434.70,11.48 L435.20,11.48 L435.70,11.48 L436.20,11.48 L436.70,11.48 L437.20,11.48 L437.70,11.48 L438.20,11.48 L438.70,11.48 L439.20,11.48 L439.70,11.48 L440.20,11.48 L440.70,11.48 L441.20,11.48 L441.70,11.48 L442.20,11.48 L442.70,11.48 L443.20,11.48 L443.70,11.48 L444.20,11.48 L444.70,11.49 L445.20,11.49 L445.70,11.49 L446.20,11.49 L446.70,11.49 L447.20,11.49 L447.70,11.49 L448.20,11.49 L448.70,11.50 L449.20,11.50 L449.70,11.50 L450.20,11.50 L450.70,11.50 L451.20,11.50 L451.70,11.51 L452.20,11.51 L452.70,11.51 L453.20,11.51 L453.70,11.51 L454.20,11.52 L454.70,11.52 L455.20,11.52 L455.70,11.52 L456.20,11.53 L456.70,11.53 L457.20,11.53 L457.70,11.53 L458.20,11.54 L458.70,11.54 L459.20,11.54 L459.70,11.54 L460.20,11.55 L460.70,11.55 L461.20,11.55 L461.70,11.56 L462.20,11.56 L462.70,11.56 L463.20,11.57 L463.70,11.57 L464.20,11.57 L464.70,11.57 L465.20,11.58 L465.70,11.58 L466.20,11.59 L466.70,11.59 L467.20,11.59 L467.70,11.60 L468.20,11.60 L468.70,11.60 L469.20,11.61 L469.70,11.61 L470.20,11.61 L470.70,11.62 L471.20,11.62 L471.70,11.63 L472.20,11.63 L472.70,11.63 L473.20,11.64 L473.70,11.64 L474.20,11.65 L474.70,11.65 L475.20,11.66 L475.70,11.66 L476.20,11.66 L476.70,11.67 L477.20,11.67 L477.70,11.68 L478.20,11.68 L478.70,11.69 L479.20,11.69 L479.70,11.70 L480.20,11.70 L480.70,11.71 L481.20,11.71 L481.70,11.72 L482.20,11.72 L482.70,11.73 L483.20,11.73 L483.70,11.74 L484.20,11.74 L484.70,11.75 L485.20,11.75 L485.70,11.76 L486.20,11.76 L486.70,11.77 L487.20,11.77 L487.70,11.78 L488.20,11.78 L488.70,11.79 L489.20,11.79 L489.70,11.80 L490.20,11.81 L490.70,11.81 L491.20,11.82 L491.70,11.82 L492.20,11.83 L492.70,11.83 L493.20,11.84 L493.70,11.85 L494.20,11.85 L494.70,11.86 L495.20,11.86 L495.70,11.87 L496.20,11.88 L496.70,11.88 L497.20,11.89 L497.70,11.89 L498.20,11.90 L498.70,11.91 L499.20,11.91 L499.70,11.92 L500.20,11.93 L500.70,11.93 L501.20,11.94 L501.70,11.94 L502.20,11.95 L502.70,11.96 L503.20,11.96 L503.70,11.97 L504.20,11.98 L504.70,11.98 L505.20,11.99 L505.70,12.00 L506.20,12.00 L506.70,12.01 L507.20,12.02 L507.70,12.03 L508.20,12.03 L508.70,12.04 L509.20,12.05 L509.70,12.06 L510.20,12.06 L510.70,12.07 L511.20,12.08 L511.70,12.09 L512.20,12.10 L512.70,12.10 L513.20,12.11 L513.70,12.12 L514.20,12.13 L514.70,12.14 L515.20,12.15 L515.70,12.16 L516.20,12.17 L516.70,12.18 L517.20,12.19 L517.70,12.20 L518.20,12.21 L518.70,12.22 L519.20,12.23 L519.70,12.24 L520.20,12.25 L520.70,12.26 L521.20,12.27 L521.70,12.28 L522.20,12.29 L522.70,12.30 L523.20,12.32 L523.70,12.33 L524.20,12.34 L524.70,12.35 L525.20,12.37 L525.70,12.38 L526.20,12.39 L526.70,12.41 L527.20,12.42 L527.70,12.44 L528.20,12.45 L528.70,12.46 L529.20,12.48 L529.70,12.49 L530.20,12.51 L530.70,12.53 L531.20,12.54 L531.70,12.56 L532.20,12.57 L532.70,12.59 L533.20,12.61 L533.70,12.63 L534.20,12.64 L534.70,12.66 L535.20,12.68 L535.70,12.70 L536.20,12.72 L536.70,12.74 L537.20,12.76 L537.70,12.78 L538.20,12.80 L538.70,12.82 L539.20,12.84 L539.70,12.86 L540.20,12.88 L540.70,12.90 L541.20,12.93 L541.70,12.95 L542.20,12.97 L542.70,13.00 L543.20,13.02 L543.70,13.04 L544.20,13.07 L544.70,13.09 L545.20,13.12 L545.70,13.14 L546.20,13.17 L546.70,13.20 L547.20,13.22 L547.70,13.25 L548.20,13.28 L548.70,13.31 L549.20,13.34 L549.70,13.37 L550.20,13.40 L550.70,13.43 L551.20,13.46 L551.70,13.49 L552.20,13.52 L552.70,13.55 L553.20,13.58 L553.70,13.62 L554.20,13.65 L554.70,13.68 L555.20,13.72 L555.70,13.75 L556.20,13.79 L556.70,13.82 L557.20,13.86 L557.70,13.89 L558.20,13.93 L558.70,13.97 L559.20,14.01 L559.70,14.05 L560.20,14.08 L560.70,14.12 L561.20,14.16 L561.70,14.20 L562.20,14.25 L562.70,14.29 L563.20,14.33 L563.70,14.37 L564.20,14.42 L564.70,14.46 L565.20,14.50 L565.70,14.55 L566.20,14.59 L566.70,14.64 L567.20,14.69 L567.70,14.73 L568.20,14.78 L568.70,14.83 L569.20,14.88 L569.70,14.93 L570.20,14.98 L570.70,15.03 L571.20,15.08 L571.70,15.13 L572.20,15.19 L572.70,15.24 L573.20,15.29 L573.70,15.35 L574.20,15.40 L574.70,15.46 L575.20,15.51 L575.70,15.57 L576.20,15.63 L576.70,15.69 L577.20,15.75 L577.70,15.80 L578.20,15.86 L578.70,15.93 L579.20,15.99 L579.70,16.05 L580.20,16.11 L580.70,16.18 L581.20,16.24 L581.70,16.30 L582.20,16.37 L582.70,16.44 L583.20,16.50 L583.70,16.57 L584.20,16.64 L584.70,16.71 L585.20,16.78 L585.70,16.85 L586.20,16.92 L586.70,16.99 L587.20,17.06 L587.70,17.14 L588.20,17.21 L588.70,17.29 L589.20,17.36 L589.70,17.44 L590.20,17.52 L590.70,17.59 L591.20,17.67 L591.70,17.75 L592.20,17.83 L592.70,17.91 L593.20,17.99 L593.70,18.08 L594.20,18.16 L594.70,18.24 L595.20,18.33 L595.70,18.41 L596.20,18.50 L596.70,18.59 L597.20,18.68 L597.70,18.77 L598.20,18.86 L598.70,18.95 L599.20,19.04 L599.70,19.13 L600.20,19.22 L600.70,19.32 L601.20,19.41 L601.70,19.51 L602.20,19.60 L602.70,19.70 L603.20,19.80 L603.70,19.90 L604.20,20.00 L604.70,20.10 L605.20,20.20 L605.70,20.31 L606.20,20.41 L606.70,20.52 L607.20,20.62 L607.70,20.73 L608.20,20.84 L608.70,20.95 L609.20,21.06 L609.70,21.18 L610.20,21.29 L610.70,21.40 L611.20,21.52 L611.70,21.64 L612.20,21.76 L612.70,21.88 L613.20,22.00 L613.70,22.13 L614.20,22.25 L614.70,22.38 L615.20,22.50 L615.70,22.63 L616.20,22.76 L616.70,22.90 L617.20,23.03 L617.70,23.17 L618.20,23.30 L618.70,23.44 L619.20,23.58 L619.70,23.73 L620.20,23.87 L620.70,24.02 L621.20,24.16 L621.70,24.31 L622.20,24.46 L622.70,24.62 L623.20,24.77 L623.70,24.93 L624.20,25.09 L624.70,25.25 L625.20,25.41 L625.70,25.57 L626.20,25.74 L626.70,25.91 L627.20,26.08 L627.70,26.25 L628.20,26.42 L628.70,26.60 L629.20,26.78 L629.70,26.96 L630.20,27.14 L630.70,27.33 L631.20,27.51 L631.70,27.70 L632.20,27.89 L632.70,28.09 L633.20,28.28 L633.70,28.48 L634.20,28.68 L634.70,28.89 L635.20,29.09 L635.70,29.30 L636.20,29.51 L636.70,29.72 L637.20,29.94 L637.70,30.15 L638.20,30.37 L638.70,30.59 L639.20,30.82 L639.70,31.04 L640.20,31.26 L640.70,31.49 L641.20,31.72 L641.70,31.94 L642.20,32.17 L642.70,32.40 L643.20,32.63 L643.70,32.85 L644.20,33.08 L644.70,33.31 L645.20,33.54 L645.70,33.76 L646.20,33.99 L646.70,34.21 L647.20,34.43 L647.70,34.65 L648.20,34.87 L648.70,35.09 L649.20,35.30 L649.70,35.51 L650.20,35.72 L650.70,35.93 L651.20,36.13 L651.70,36.33 L652.20,36.53 L652.70,36.73 L653.20,36.92 L653.70,37.10 L654.20,37.29 L654.70,37.46 L655.20,37.64 L655.70,37.81 L656.20,37.97 L656.70,38.13 L657.20,38.29 L657.70,38.44 L658.20,38.58 L658.70,38.72 L659.20,38.85 L659.70,38.97 L660.20,39.09 L660.70,39.21 L661.20,39.31 L661.70,39.41 L662.20,39.50 L662.70,39.58 L663.20,39.66 L663.70,39.72 L664.20,39.78 L664.70,39.83 L665.20,39.87 L665.70,39.90 L666.20,39.92 L666.70,39.94 L667.20,39.94 L667.70,39.93 L668.20,39.92 L668.70,39.89 L669.20,39.85 L669.70,39.80 L670.20,39.74 L670.70,39.67 L671.20,39.59 L671.70,39.50 L672.20,39.39 L672.70,39.27 L673.20,39.14 L673.70,39.00 L674.20,38.84 L674.70,38.67 L675.20,38.49 L675.70,38.29 L676.20,38.09 L676.70,37.86 L677.20,37.62 L677.70,37.37 L678.20,37.10 L678.70,36.82 L679.20,36.53 L679.70,36.21 L680.20,35.89 L680.20,35.89" stroke="#0072bd" stroke-width="2.20" fill="none" stroke-dasharray="2.00 1.37"/>
<path d="M394.70,51.62 L395.20,51.57 L395.70,51.51 L396.20,51.46 L396.70,51.41 L397.20,51.36 L397.70,51.31 L398.20,51.26 L398.70,51.22 L399.20,51.17 L399.70,51.13 L400.20,51.09 L400.70,51.05 L401.20,51.02 L401.70,50.98 L402.20,50.95 L402.70,50.91 L403.20,50.88 L403.70,50.85 L404.20,50.83 L404.70,50.80 L405.20,50.78 L405.70,50.76 L406.20,50.74 L406.70,50.72 L407.20,50.70 L407.70,50.69 L408.20,50.67 L408.70,50.66 L409.20,50.65 L409.70,50.64 L410.20,50.64 L410.70,50.63 L411.20,50.63 L411.70,50.63 L412.20,50.63 L412.70,50.63 L413.20,50.64 L413.70,50.64 L414.20,50.65 L414.70,50.66 L415.20,50.67 L415.70,50.68 L416.20,50.70 L416.70,50.72 L417.20,50.74 L417.70,50.76 L418.20,50.78 L418.70,50.81 L419.20,50.83 L419.70,50.86 L420.20,50.89 L420.70,50.92 L421.20,50.96 L421.70,50.99 L422.20,51.03 L422.70,51.07 L423.20,51.12 L423.70,51.16 L424.20,51.21 L424.70,51.25 L425.20,51.30 L425.70,51.36 L426.20,51.41 L426.70,51.47 L427.20,51.52 L427.70,51.58 L428.20,51.65 L428.70,51.71 L429.20,51.78 L429.70,51.85 L430.20,51.92 L430.70,51.99 L431.20,52.06 L431.70,52.14 L432.20,52.22 L432.70,52.30 L433.20,52.38 L433.70,52.47 L434.20,52.55 L434.70,52.64 L435.20,52.73 L435.70,52.83 L436.20,52.92 L436.70,53.02 L437.20,53.12 L437.70,53.22 L438.20,53.33 L438.70,53.44 L439.20,53.54 L439.70,53.66 L440.20,53.77 L440.70,53.88 L441.20,54.00 L441.70,54.12 L442.20,54.24 L442.70,54.37 L443.20,54.49 L443.70,54.62 L444.20,54.76 L444.70,54.89 L445.20,55.02 L445.70,55.16 L446.20,55.30 L446.70,55.45 L447.20,55.59 L447.70,55.74 L448.20,55.89 L448.70,56.04 L449.20,56.19 L449.70,56.35 L450.20,56.50 L450.70,56.66 L451.20,56.82 L451.70,56.99 L452.20,57.15 L452.70,57.32 L453.20,57.49 L453.70,57.66 L454.20,57.83 L454.70,58.00 L455.20,58.18 L455.70,58.36 L456.20,58.53 L456.70,58.71 L457.20,58.90 L457.70,59.08 L458.20,59.26 L458.70,59.45 L459.20,59.64 L459.70,59.82 L460.20,60.01 L460.70,60.20 L461.20,60.40 L461.70,60.59 L462.20,60.78 L462.70,60.98 L463.20,61.17 L463.70,61.37 L464.20,61.57 L464.70,61.77 L465.20,61.97 L465.70,62.17 L466.20,62.37 L466.70,62.57 L467.20,62.78 L467.70,62.98 L468.20,63.18 L468.70,63.39 L469.20,63.59 L469.70,63.80 L470.20,64.01 L470.70,64.21 L471.20,64.42 L471.70,64.63 L472.20,64.84 L472.70,65.05 L473.20,65.26 L473.70,65.46 L474.20,65.67 L474.70,65.88 L475.20,66.09 L475.70,66.30 L476.20,66.51 L476.70,66.72 L477.20,66.93 L477.70,67.14 L478.20,67.35 L478.70,67.56 L479.20,67.77 L479.70,67.98 L480.20,68.19 L480.70,68.40 L481.20,68.61 L481.70,68.81 L482.20,69.02 L482.70,69.23 L483.20,69.43 L483.70,69.64 L484.20,69.85 L484.70,70.05 L485.20,70.26 L485.70,70.46 L486.20,70.66 L486.70,70.87 L487.20,71.07 L487.70,71.27 L488.20,71.47 L488.70,71.68 L489.20,71.88 L489.70,72.08 L490.20,72.29 L490.70,72.49 L491.20,72.70 L491.70,72.91 L492.20,73.12 L492.70,73.33 L493.20,73.55 L493.70,73.76 L494.20,73.98 L494.70,74.20 L495.20,74.43 L495.70,74.66 L496.20,74.89 L496.70,75.12 L497.20,75.36 L497.70,75.60 L498.20,75.84 L498.70,76.09 L499.20,76.34 L499.70,76.59 L500.20,76.85 L500.70,77.10 L501.20,77.36 L501.70,77.62 L502.20,77.88 L502.70,78.14 L503.20,78.40 L503.70,78.66 L504.20,78.92 L504.70,79.19 L505.20,79.45 L505.70,79.71 L506.20,79.97 L506.70,80.23 L507.20,80.49 L507.70,80.74 L508.20,81.00 L508.70,81.25 L509.20,81.50 L509.70,81.75 L510.20,81.99 L510.70,82.24 L511.20,82.48 L511.70,82.71 L512.20,82.94 L512.70,83.17 L513.20,83.40 L513.70,83.63 L514.20,83.85 L514.70,84.07 L515.20,84.29 L515.70,84.51 L516.20,84.73 L516.70,84.95 L517.20,85.17 L517.70,85.39 L518.20,85.61 L518.70,85.84 L519.20,86.06 L519.70,86.28 L520.20,86.51 L520.70,86.74 L521.20,86.97 L521.70,87.20 L522.20,87.44 L522.70,87.68 L523.20,87.93 L523.70,88.18 L524.20,88.43 L524.70,88.69 L525.20,88.95 L525.70,89.22 L526.20,89.50 L526.70,89.78 L527.20,90.06 L527.70,90.36 L528.20,90.66 L528.70,90.97 L529.20,91.28 L529.70,91.61 L530.20,91.94 L530.70,92.28 L531.20,92.63 L531.70,92.99 L532.20,93.36 L532.70,93.73 L533.20,94.12 L533.70,94.52 L534.20,94.93 L534.70,95.34 L535.20,95.76 L535.70,96.18 L536.20,96.60 L536.70,97.02 L537.20,97.44 L537.70,97.86 L538.20,98.26 L538.70,98.66 L539.20,99.04 L539.70,99.42 L540.20,99.77 L540.70,100.11 L541.20,100.44 L541.70,100.73 L542.20,101.01 L542.70,101.26 L543.20,101.49 L543.70,101.68 L544.20,101.84 L544.70,101.97 L545.20,102.07 L545.70,102.13 L546.20,102.15 L546.70,102.14 L547.20,102.09 L547.70,102.00 L548.20,101.87 L548.70,101.70 L549.20,101.48 L549.70,101.23 L550.20,100.93 L550.70,100.59 L551.20,100.21 L551.70,99.79 L552.20,99.34 L552.70,98.86 L553.20,98.35 L553.70,97.82 L554.20,97.26 L554.70,96.69 L555.20,96.10 L555.70,95.50 L556.20,94.88 L556.70,94.26 L557.20,93.64 L557.70,93.02 L558.20,92.40 L558.70,91.78 L559.20,91.17 L559.70,90.57 L560.20,89.99 L560.70,89.42 L561.20,88.88 L561.70,88.35 L562.20,87.85 L562.70,87.36 L563.20,86.88 L563.70,86.42 L564.20,85.96 L564.70,85.51 L565.20,85.06 L565.70,84.61 L566.20,84.16 L566.70,83.71 L567.20,83.24 L567.70,82.77 L568.20,82.30 L568.70,81.81 L569.20,81.33 L569.70,80.83 L570.20,80.34 L570.70,79.84 L571.20,79.33 L571.70,78.83 L572.20,78.32 L572.70,77.81 L573.20,77.31 L573.70,76.80 L574.20,76.29 L574.70,75.79 L575.20,75.29 L575.70,74.79 L576.20,74.30 L576.70,73.81 L577.20,73.33 L577.70,72.85 L578.20,72.37 L578.70,71.90 L579.20,71.44 L579.70,70.98 L580.20,70.52 L580.70,70.07 L581.20,69.62 L581.70,69.18 L582.20,68.74 L582.70,68.31 L583.20,67.88 L583.70,67.45 L584.20,67.03 L584.70,66.62 L585.20,66.20 L585.70,65.79 L586.20,65.39 L586.70,64.99 L587.20,64.59 L587.70,64.20 L588.20,63.81 L588.70,63.42 L589.20,63.04 L589.70,62.66 L590.20,62.29 L590.70,61.91 L591.20,61.55 L591.70,61.18 L592.20,60.82 L592.70,60.46 L593.20,60.11 L593.70,59.76 L594.20,59.41 L594.70,59.06 L595.20,58.72 L595.70,58.38 L596.20,58.05 L596.70,57.71 L597.20,57.38 L597.70,57.06 L598.20,56.73 L598.70,56.41 L599.20,56.09 L599.70,55.78 L600.20,55.46 L600.70,55.15 L601.20,54.84 L601.70,54.54 L602.20,54.23 L602.70,53.93 L603.20,53.63 L603.70,53.34 L604.20,53.04 L604.70,52.75 L605.20,52.46 L605.70,52.17 L606.20,51.88 L606.70,51.60 L607.20,51.32 L607.70,51.04 L608.20,50.76 L608.70,50.48 L609.20,50.20 L609.70,49.93 L610.20,49.66 L610.70,49.39 L611.20,49.12 L611.70,48.85 L612.20,48.59 L612.70,48.32 L613.20,48.06 L613.70,47.80 L614.20,47.54 L614.70,47.28 L615.20,47.02 L615.70,46.76 L616.20,46.50 L616.70,46.25 L617.20,46.00 L617.70,45.74 L618.20,45.49 L618.70,45.24 L619.20,44.99 L619.70,44.75 L620.20,44.50 L620.70,44.25 L621.20,44.01 L621.70,43.77 L622.20,43.52 L622.70,43.28 L623.20,43.04 L623.70,42.81 L624.20,42.57 L624.70,42.33 L625.20,42.10 L625.70,41.87 L626.20,41.64 L626.70,41.40 L627.20,41.18 L627.70,40.95 L628.20,40.72 L628.70,40.49 L629.20,40.27 L629.70,40.05 L630.20,39.83 L630.70,39.61 L631.20,39.39 L631.70,39.17 L632.20,38.95 L632.70,38.74 L633.20,38.52 L633.70,38.31 L634.20,38.10 L634.70,37.89 L635.20,37.68 L635.70,37.47 L636.20,37.27 L636.70,37.06 L637.20,36.86 L637.70,36.66 L638.20,36.45 L638.70,36.25 L639.20,36.06 L639.70,35.86 L640.20,35.66 L640.70,35.47 L641.20,35.28 L641.70,35.09 L642.20,34.90 L642.70,34.71 L643.20,34.52 L643.70,34.33 L644.20,34.15 L644.70,33.97 L645.20,33.79 L645.70,33.60 L646.20,33.43 L646.70,33.25 L647.20,33.07 L647.70,32.90 L648.20,32.72 L648.70,32.55 L649.20,32.38 L649.70,32.21 L650.20,32.04 L650.70,31.88 L651.20,31.71 L651.70,31.55 L652.20,31.39 L652.70,31.23 L653.20,31.07 L653.70,30.91 L654.20,30.75 L654.70,30.60 L655.20,30.45 L655.70,30.30 L656.20,30.14 L656.70,30.00 L657.20,29.85 L657.70,29.70 L658.20,29.56 L658.70,29.42 L659.20,29.27 L659.70,29.13 L660.20,29.00 L660.70,28.86 L661.20,28.72 L661.70,28.59 L662.20,28.46 L662.70,28.33 L663.20,28.20 L663.70,28.07 L664.20,27.94 L664.70,27.82 L665.20,27.69 L665.70,27.57 L666.20,27.45 L666.70,27.33 L667.20,27.22 L667.70,27.10 L668.20,26.99 L668.70,26.88 L669.20,26.76 L669.70,26.65 L670.20,26.55 L670.70,26.44 L671.20,26.34 L671.70,26.23 L672.20,26.13 L672.70,26.03 L673.20,25.93 L673.70,25.84 L674.20,25.74 L674.70,25.65 L675.20,25.56 L675.70,25.47 L676.20,25.38 L676.70,25.29 L677.20,25.21 L677.70,25.12 L678.20,25.04 L678.70,24.96 L679.20,24.88 L679.70,24.80 L680.20,24.73 L680.20,24.73" stroke="#edb120" stroke-width="2.20" fill="none" stroke-dasharray="7.00 1.50 3.60 1.50"/>
</g>
<path d="M394.70,136.60v-3.00M394.70,3.10v3.00M420.65,136.60v-3.00M420.65,3.10v3.00M472.56,136.60v-3.00M472.56,3.10v3.00M524.47,136.60v-3.00M524.47,3.10v3.00M576.38,136.60v-3.00M576.38,3.10v3.00M628.29,136.60v-3.00M628.29,3.10v3.00M680.20,136.60v-3.00M680.20,3.10v3.00M394.70,3.10h3.00M680.20,3.10h-3.00M394.70,29.80h3.00M680.20,29.80h-3.00M394.70,56.50h3.00M680.20,56.50h-3.00M394.70,83.20h3.00M680.20,83.20h-3.00M394.70,109.90h3.00M680.20,109.90h-3.00M394.70,136.60h3.00M680.20,136.60h-3.00" stroke="#7a7a7a" stroke-width="1" fill="none"/>
<rect x="394.70" y="3.10" width="285.50" height="133.50" stroke="#7a7a7a" stroke-width="1.2" fill="none"/>
<text x="394.70" y="150.70" font-size="10.00" text-anchor="middle" class="sf">18</text>
<text x="420.65" y="150.70" font-size="10.00" text-anchor="middle" class="sf">20</text>
<text x="472.56" y="150.70" font-size="10.00" text-anchor="middle" class="sf">24</text>
<text x="524.47" y="150.70" font-size="10.00" text-anchor="middle" class="sf">28</text>
<text x="576.38" y="150.70" font-size="10.00" text-anchor="middle" class="sf">32</text>
<text x="628.29" y="150.70" font-size="10.00" text-anchor="middle" class="sf">36</text>
<text x="680.20" y="150.70" font-size="10.00" text-anchor="middle" class="sf">40</text>
<text x="390.20" y="6.70" font-size="10.00" text-anchor="end" class="sf">0</text>
<text x="390.20" y="33.40" font-size="10.00" text-anchor="end" class="sf">-10</text>
<text x="390.20" y="60.10" font-size="10.00" text-anchor="end" class="sf">-20</text>
<text x="390.20" y="86.80" font-size="10.00" text-anchor="end" class="sf">-30</text>
<text x="390.20" y="113.50" font-size="10.00" text-anchor="end" class="sf">-40</text>
<text x="390.20" y="140.20" font-size="10.00" text-anchor="end" class="sf">-50</text>
<text x="538.90" y="162.60" font-size="11.35" text-anchor="middle" class="sf">Frequency (GHz)</text>
<text transform="translate(369.30,70.60) rotate(-90)" x="0" y="0" font-size="11.35" text-anchor="middle" class="sf">S-Parameters (dB)</text>
<rect x="512.40" y="116.20" width="165.30" height="17.90" fill="#fff" stroke="#555" stroke-width="1"/>
<path d="M514.90,125.15h21.80" stroke="#ff0000" stroke-width="2.20" fill="none"/>
<text x="538.50" y="127.75" font-size="10.00" class="sf">S<tspan font-size="8.00" dx="0.50" dy="3.90">11</tspan></text>
<path d="M555.65,125.15h21.80" stroke="#008000" stroke-width="2.20" fill="none" stroke-dasharray="7.00 6.50"/>
<text x="579.25" y="127.75" font-size="10.00" class="sf">S<tspan font-size="8.00" dx="0.50" dy="3.90">21</tspan></text>
<path d="M596.40,125.15h21.80" stroke="#0072bd" stroke-width="2.20" fill="none" stroke-dasharray="2.00 1.37"/>
<text x="620.00" y="127.75" font-size="10.00" class="sf">S<tspan font-size="8.00" dx="0.50" dy="3.90">31</tspan></text>
<path d="M637.15,125.15h21.80" stroke="#edb120" stroke-width="2.20" fill="none" stroke-dasharray="7.00 1.50 3.60 1.50"/>
<text x="660.75" y="127.75" font-size="10.00" class="sf">S<tspan font-size="8.00" dx="0.50" dy="3.90">41</tspan></text>
<text x="537.70" y="180.00" font-size="11.00" text-anchor="middle" class="ss">(b)</text>
<path d="M230.70,199.50V340.30M285.30,199.50V340.30M339.90,199.50V340.30M394.50,199.50V340.30M449.10,199.50V340.30" stroke="#e3e3e3" stroke-width="1" fill="none"/>
<path d="M203.40,227.66H503.70M203.40,255.82H503.70M203.40,283.98H503.70M203.40,312.14H503.70" stroke="#eaeaea" stroke-width="1" fill="none"/>
<g clip-path="url(#clipc)">
<path d="M203.40,265.52 L203.90,265.85 L204.40,266.18 L204.90,266.51 L205.40,266.84 L205.90,267.17 L206.40,267.50 L206.90,267.82 L207.40,268.15 L207.90,268.47 L208.40,268.79 L208.90,269.10 L209.40,269.42 L209.90,269.73 L210.40,270.04 L210.90,270.35 L211.40,270.66 L211.90,270.97 L212.40,271.27 L212.90,271.57 L213.40,271.88 L213.90,272.17 L214.40,272.47 L214.90,272.77 L215.40,273.06 L215.90,273.35 L216.40,273.64 L216.90,273.93 L217.40,274.21 L217.90,274.49 L218.40,274.78 L218.90,275.05 L219.40,275.33 L219.90,275.61 L220.40,275.88 L220.90,276.15 L221.40,276.42 L221.90,276.69 L222.40,276.95 L222.90,277.22 L223.40,277.48 L223.90,277.74 L224.40,277.99 L224.90,278.25 L225.40,278.50 L225.90,278.75 L226.40,279.00 L226.90,279.24 L227.40,279.49 L227.90,279.73 L228.40,279.97 L228.90,280.20 L229.40,280.44 L229.90,280.67 L230.40,280.90 L230.90,281.13 L231.40,281.36 L231.90,281.58 L232.40,281.80 L232.90,282.02 L233.40,282.24 L233.90,282.45 L234.40,282.67 L234.90,282.88 L235.40,283.08 L235.90,283.29 L236.40,283.49 L236.90,283.69 L237.40,283.89 L237.90,284.09 L238.40,284.28 L238.90,284.47 L239.40,284.66 L239.90,284.85 L240.40,285.03 L240.90,285.21 L241.40,285.39 L241.90,285.57 L242.40,285.74 L242.90,285.91 L243.40,286.08 L243.90,286.25 L244.40,286.41 L244.90,286.58 L245.40,286.74 L245.90,286.89 L246.40,287.05 L246.90,287.20 L247.40,287.35 L247.90,287.49 L248.40,287.64 L248.90,287.78 L249.40,287.92 L249.90,288.05 L250.40,288.19 L250.90,288.32 L251.40,288.44 L251.90,288.57 L252.40,288.69 L252.90,288.81 L253.40,288.93 L253.90,289.04 L254.40,289.16 L254.90,289.27 L255.40,289.37 L255.90,289.48 L256.40,289.58 L256.90,289.67 L257.40,289.77 L257.90,289.86 L258.40,289.95 L258.90,290.04 L259.40,290.12 L259.90,290.21 L260.40,290.28 L260.90,290.36 L261.40,290.43 L261.90,290.50 L262.40,290.57 L262.90,290.64 L263.40,290.70 L263.90,290.76 L264.40,290.81 L264.90,290.86 L265.40,290.91 L265.90,290.96 L266.40,291.00 L266.90,291.05 L267.40,291.08 L267.90,291.12 L268.40,291.15 L268.90,291.18 L269.40,291.21 L269.90,291.23 L270.40,291.25 L270.90,291.27 L271.40,291.29 L271.90,291.30 L272.40,291.31 L272.90,291.32 L273.40,291.32 L273.90,291.33 L274.40,291.33 L274.90,291.32 L275.40,291.32 L275.90,291.31 L276.40,291.30 L276.90,291.29 L277.40,291.28 L277.90,291.26 L278.40,291.25 L278.90,291.23 L279.40,291.20 L279.90,291.18 L280.40,291.15 L280.90,291.12 L281.40,291.09 L281.90,291.06 L282.40,291.03 L282.90,290.99 L283.40,290.95 L283.90,290.91 L284.40,290.87 L284.90,290.83 L285.40,290.78 L285.90,290.74 L286.40,290.69 L286.90,290.64 L287.40,290.59 L287.90,290.53 L288.40,290.48 L288.90,290.42 L289.40,290.37 L289.90,290.31 L290.40,290.25 L290.90,290.19 L291.40,290.12 L291.90,290.06 L292.40,289.99 L292.90,289.93 L293.40,289.86 L293.90,289.79 L294.40,289.72 L294.90,289.65 L295.40,289.58 L295.90,289.51 L296.40,289.43 L296.90,289.36 L297.40,289.28 L297.90,289.21 L298.40,289.13 L298.90,289.05 L299.40,288.98 L299.90,288.90 L300.40,288.82 L300.90,288.74 L301.40,288.65 L301.90,288.57 L302.40,288.49 L302.90,288.41 L303.40,288.33 L303.90,288.24 L304.40,288.16 L304.90,288.07 L305.40,287.99 L305.90,287.91 L306.40,287.82 L306.90,287.74 L307.40,287.65 L307.90,287.56 L308.40,287.48 L308.90,287.39 L309.40,287.31 L309.90,287.22 L310.40,287.14 L310.90,287.05 L311.40,286.97 L311.90,286.88 L312.40,286.79 L312.90,286.71 L313.40,286.63 L313.90,286.54 L314.40,286.46 L314.90,286.37 L315.40,286.29 L315.90,286.21 L316.40,286.12 L316.90,286.04 L317.40,285.96 L317.90,285.88 L318.40,285.80 L318.90,285.72 L319.40,285.64 L319.90,285.56 L320.40,285.49 L320.90,285.41 L321.40,285.33 L321.90,285.26 L322.40,285.18 L322.90,285.11 L323.40,285.04 L323.90,284.97 L324.40,284.90 L324.90,284.83 L325.40,284.76 L325.90,284.69 L326.40,284.62 L326.90,284.56 L327.40,284.50 L327.90,284.43 L328.40,284.37 L328.90,284.31 L329.40,284.25 L329.90,284.20 L330.40,284.14 L330.90,284.09 L331.40,284.03 L331.90,283.98 L332.40,283.93 L332.90,283.89 L333.40,283.84 L333.90,283.79 L334.40,283.75 L334.90,283.71 L335.40,283.67 L335.90,283.63 L336.40,283.59 L336.90,283.55 L337.40,283.52 L337.90,283.48 L338.40,283.45 L338.90,283.42 L339.40,283.39 L339.90,283.36 L340.40,283.33 L340.90,283.31 L341.40,283.28 L341.90,283.26 L342.40,283.23 L342.90,283.21 L343.40,283.19 L343.90,283.17 L344.40,283.15 L344.90,283.14 L345.40,283.12 L345.90,283.11 L346.40,283.09 L346.90,283.08 L347.40,283.07 L347.90,283.05 L348.40,283.04 L348.90,283.04 L349.40,283.03 L349.90,283.02 L350.40,283.01 L350.90,283.01 L351.40,283.00 L351.90,283.00 L352.40,282.99 L352.90,282.99 L353.40,282.99 L353.90,282.99 L354.40,282.99 L354.90,282.99 L355.40,282.99 L355.90,282.99 L356.40,282.99 L356.90,283.00 L357.40,283.00 L357.90,283.00 L358.40,283.01 L358.90,283.01 L359.40,283.02 L359.90,283.02 L360.40,283.03 L360.90,283.04 L361.40,283.05 L361.90,283.05 L362.40,283.06 L362.90,283.07 L363.40,283.08 L363.90,283.09 L364.40,283.10 L364.90,283.11 L365.40,283.12 L365.90,283.13 L366.40,283.14 L366.90,283.15 L367.40,283.17 L367.90,283.18 L368.40,283.19 L368.90,283.20 L369.40,283.21 L369.90,283.23 L370.40,283.24 L370.90,283.25 L371.40,283.27 L371.90,283.28 L372.40,283.29 L372.90,283.30 L373.40,283.32 L373.90,283.33 L374.40,283.34 L374.90,283.36 L375.40,283.37 L375.90,283.38 L376.40,283.40 L376.90,283.41 L377.40,283.42 L377.90,283.43 L378.40,283.45 L378.90,283.46 L379.40,283.47 L379.90,283.48 L380.40,283.49 L380.90,283.50 L381.40,283.51 L381.90,283.52 L382.40,283.53 L382.90,283.54 L383.40,283.55 L383.90,283.56 L384.40,283.57 L384.90,283.58 L385.40,283.59 L385.90,283.59 L386.40,283.60 L386.90,283.61 L387.40,283.61 L387.90,283.62 L388.40,283.62 L388.90,283.63 L389.40,283.63 L389.90,283.64 L390.40,283.64 L390.90,283.64 L391.40,283.64 L391.90,283.64 L392.40,283.64 L392.90,283.64 L393.40,283.64 L393.90,283.64 L394.40,283.63 L394.90,283.63 L395.40,283.62 L395.90,283.62 L396.40,283.61 L396.90,283.61 L397.40,283.60 L397.90,283.59 L398.40,283.58 L398.90,283.57 L399.40,283.56 L399.90,283.54 L400.40,283.53 L400.90,283.51 L401.40,283.50 L401.90,283.48 L402.40,283.46 L402.90,283.45 L403.40,283.43 L403.90,283.40 L404.40,283.38 L404.90,283.36 L405.40,283.33 L405.90,283.31 L406.40,283.28 L406.90,283.25 L407.40,283.22 L407.90,283.19 L408.40,283.16 L408.90,283.13 L409.40,283.09 L409.90,283.06 L410.40,283.02 L410.90,282.98 L411.40,282.94 L411.90,282.90 L412.40,282.85 L412.90,282.81 L413.40,282.76 L413.90,282.72 L414.40,282.67 L414.90,282.62 L415.40,282.57 L415.90,282.51 L416.40,282.46 L416.90,282.40 L417.40,282.34 L417.90,282.28 L418.40,282.22 L418.90,282.16 L419.40,282.09 L419.90,282.02 L420.40,281.96 L420.90,281.89 L421.40,281.81 L421.90,281.74 L422.40,281.66 L422.90,281.59 L423.40,281.51 L423.90,281.43 L424.40,281.34 L424.90,281.26 L425.40,281.17 L425.90,281.08 L426.40,280.99 L426.90,280.90 L427.40,280.81 L427.90,280.71 L428.40,280.61 L428.90,280.51 L429.40,280.41 L429.90,280.30 L430.40,280.19 L430.90,280.09 L431.40,279.97 L431.90,279.86 L432.40,279.75 L432.90,279.63 L433.40,279.51 L433.90,279.39 L434.40,279.26 L434.90,279.13 L435.40,279.01 L435.90,278.87 L436.40,278.74 L436.90,278.60 L437.40,278.47 L437.90,278.33 L438.40,278.18 L438.90,278.04 L439.40,277.89 L439.90,277.74 L440.40,277.59 L440.90,277.43 L441.40,277.28 L441.90,277.12 L442.40,276.96 L442.90,276.79 L443.40,276.63 L443.90,276.46 L444.40,276.29 L444.90,276.12 L445.40,275.94 L445.90,275.76 L446.40,275.58 L446.90,275.40 L447.40,275.22 L447.90,275.03 L448.40,274.84 L448.90,274.65 L449.40,274.45 L449.90,274.26 L450.40,274.06 L450.90,273.86 L451.40,273.65 L451.90,273.45 L452.40,273.24 L452.90,273.03 L453.40,272.81 L453.90,272.60 L454.40,272.38 L454.90,272.16 L455.40,271.94 L455.90,271.71 L456.40,271.49 L456.90,271.26 L457.40,271.02 L457.90,270.79 L458.40,270.55 L458.90,270.31 L459.40,270.07 L459.90,269.83 L460.40,269.58 L460.90,269.33 L461.40,269.08 L461.90,268.82 L462.40,268.57 L462.90,268.31 L463.40,268.05 L463.90,267.78 L464.40,267.52 L464.90,267.25 L465.40,266.98 L465.90,266.70 L466.40,266.43 L466.90,266.15 L467.40,265.87 L467.90,265.58 L468.40,265.30 L468.90,265.01 L469.40,264.72 L469.90,264.42 L470.40,264.13 L470.90,263.83 L471.40,263.53 L471.90,263.23 L472.40,262.92 L472.90,262.61 L473.40,262.30 L473.90,261.99 L474.40,261.67 L474.90,261.35 L475.40,261.03 L475.90,260.71 L476.40,260.38 L476.90,260.05 L477.40,259.72 L477.90,259.39 L478.40,259.05 L478.90,258.72 L479.40,258.38 L479.90,258.03 L480.40,257.69 L480.90,257.34 L481.40,256.99 L481.90,256.63 L482.40,256.28 L482.90,255.92 L483.40,255.56 L483.90,255.19 L484.40,254.83 L484.90,254.46 L485.40,254.09 L485.90,253.71 L486.40,253.34 L486.90,252.96 L487.40,252.58 L487.90,252.19 L488.40,251.80 L488.90,251.41 L489.40,251.02 L489.90,250.63 L490.40,250.23 L490.90,249.83 L491.40,249.43 L491.90,249.02 L492.40,248.62 L492.90,248.21 L493.40,247.79 L493.90,247.38 L494.40,246.96 L494.90,246.54 L495.40,246.12 L495.90,245.69 L496.40,245.26 L496.90,244.83 L497.40,244.40 L497.90,243.96 L498.40,243.52 L498.90,243.08 L499.40,242.64 L499.90,242.19 L500.40,241.74 L500.90,241.29 L501.40,240.84 L501.90,240.38 L502.40,239.92 L502.90,239.46 L503.40,238.99 L503.70,238.71" stroke="#ff0000" stroke-width="2.31" fill="none"/>
<path d="M203.40,270.52 L203.90,270.58 L204.40,270.63 L204.90,270.68 L205.40,270.74 L205.90,270.79 L206.40,270.84 L206.90,270.89 L207.40,270.94 L207.90,270.99 L208.40,271.04 L208.90,271.09 L209.40,271.14 L209.90,271.18 L210.40,271.23 L210.90,271.27 L211.40,271.32 L211.90,271.36 L212.40,271.41 L212.90,271.45 L213.40,271.50 L213.90,271.54 L214.40,271.58 L214.90,271.62 L215.40,271.66 L215.90,271.70 L216.40,271.74 L216.90,271.78 L217.40,271.82 L217.90,271.85 L218.40,271.89 L218.90,271.93 L219.40,271.96 L219.90,272.00 L220.40,272.03 L220.90,272.07 L221.40,272.10 L221.90,272.13 L222.40,272.16 L222.90,272.20 L223.40,272.23 L223.90,272.26 L224.40,272.29 L224.90,272.32 L225.40,272.34 L225.90,272.37 L226.40,272.40 L226.90,272.43 L227.40,272.45 L227.90,272.48 L228.40,272.50 L228.90,272.53 L229.40,272.55 L229.90,272.58 L230.40,272.60 L230.90,272.62 L231.40,272.64 L231.90,272.66 L232.40,272.69 L232.90,272.71 L233.40,272.73 L233.90,272.74 L234.40,272.76 L234.90,272.78 L235.40,272.80 L235.90,272.82 L236.40,272.83 L236.90,272.85 L237.40,272.86 L237.90,272.88 L238.40,272.89 L238.90,272.90 L239.40,272.92 L239.90,272.93 L240.40,272.94 L240.90,272.95 L241.40,272.96 L241.90,272.97 L242.40,272.98 L242.90,272.99 L243.40,273.00 L243.90,273.01 L244.40,273.02 L244.90,273.03 L245.40,273.03 L245.90,273.04 L246.40,273.04 L246.90,273.05 L247.40,273.05 L247.90,273.06 L248.40,273.06 L248.90,273.06 L249.40,273.07 L249.90,273.07 L250.40,273.07 L250.90,273.07 L251.40,273.07 L251.90,273.07 L252.40,273.07 L252.90,273.07 L253.40,273.07 L253.90,273.07 L254.40,273.06 L254.90,273.06 L255.40,273.06 L255.90,273.05 L256.40,273.05 L256.90,273.04 L257.40,273.04 L257.90,273.03 L258.40,273.03 L258.90,273.02 L259.40,273.01 L259.90,273.00 L260.40,272.99 L260.90,272.99 L261.40,272.98 L261.90,272.97 L262.40,272.96 L262.90,272.94 L263.40,272.93 L263.90,272.92 L264.40,272.91 L264.90,272.90 L265.40,272.88 L265.90,272.87 L266.40,272.85 L266.90,272.84 L267.40,272.83 L267.90,272.81 L268.40,272.79 L268.90,272.78 L269.40,272.76 L269.90,272.74 L270.40,272.72 L270.90,272.71 L271.40,272.69 L271.90,272.67 L272.40,272.65 L272.90,272.63 L273.40,272.61 L273.90,272.59 L274.40,272.56 L274.90,272.54 L275.40,272.52 L275.90,272.50 L276.40,272.47 L276.90,272.45 L277.40,272.42 L277.90,272.40 L278.40,272.37 L278.90,272.35 L279.40,272.32 L279.90,272.30 L280.40,272.27 L280.90,272.24 L281.40,272.21 L281.90,272.19 L282.40,272.16 L282.90,272.13 L283.40,272.10 L283.90,272.07 L284.40,272.04 L284.90,272.01 L285.40,271.98 L285.90,271.95 L286.40,271.91 L286.90,271.88 L287.40,271.85 L287.90,271.81 L288.40,271.78 L288.90,271.75 L289.40,271.71 L289.90,271.68 L290.40,271.64 L290.90,271.61 L291.40,271.57 L291.90,271.53 L292.40,271.50 L292.90,271.46 L293.40,271.42 L293.90,271.38 L294.40,271.34 L294.90,271.30 L295.40,271.27 L295.90,271.23 L296.40,271.19 L296.90,271.14 L297.40,271.10 L297.90,271.06 L298.40,271.02 L298.90,270.98 L299.40,270.94 L299.90,270.89 L300.40,270.85 L300.90,270.81 L301.40,270.76 L301.90,270.72 L302.40,270.67 L302.90,270.63 L303.40,270.58 L303.90,270.54 L304.40,270.49 L304.90,270.44 L305.40,270.40 L305.90,270.35 L306.40,270.30 L306.90,270.25 L307.40,270.20 L307.90,270.15 L308.40,270.11 L308.90,270.06 L309.40,270.01 L309.90,269.96 L310.40,269.90 L310.90,269.85 L311.40,269.80 L311.90,269.75 L312.40,269.70 L312.90,269.65 L313.40,269.59 L313.90,269.54 L314.40,269.49 L314.90,269.43 L315.40,269.38 L315.90,269.32 L316.40,269.27 L316.90,269.21 L317.40,269.16 L317.90,269.10 L318.40,269.04 L318.90,268.99 L319.40,268.93 L319.90,268.87 L320.40,268.82 L320.90,268.76 L321.40,268.70 L321.90,268.64 L322.40,268.58 L322.90,268.52 L323.40,268.46 L323.90,268.40 L324.40,268.34 L324.90,268.28 L325.40,268.22 L325.90,268.16 L326.40,268.10 L326.90,268.04 L327.40,267.97 L327.90,267.91 L328.40,267.85 L328.90,267.79 L329.40,267.72 L329.90,267.66 L330.40,267.59 L330.90,267.53 L331.40,267.46 L331.90,267.40 L332.40,267.33 L332.90,267.27 L333.40,267.20 L333.90,267.14 L334.40,267.07 L334.90,267.00 L335.40,266.94 L335.90,266.87 L336.40,266.80 L336.90,266.73 L337.40,266.67 L337.90,266.60 L338.40,266.53 L338.90,266.46 L339.40,266.39 L339.90,266.32 L340.40,266.25 L340.90,266.18 L341.40,266.11 L341.90,266.04 L342.40,265.97 L342.90,265.90 L343.40,265.82 L343.90,265.75 L344.40,265.68 L344.90,265.61 L345.40,265.53 L345.90,265.46 L346.40,265.39 L346.90,265.31 L347.40,265.24 L347.90,265.17 L348.40,265.09 L348.90,265.02 L349.40,264.94 L349.90,264.87 L350.40,264.79 L350.90,264.72 L351.40,264.64 L351.90,264.56 L352.40,264.49 L352.90,264.41 L353.40,264.33 L353.90,264.26 L354.40,264.18 L354.90,264.10 L355.40,264.02 L355.90,263.95 L356.40,263.87 L356.90,263.79 L357.40,263.71 L357.90,263.63 L358.40,263.55 L358.90,263.47 L359.40,263.39 L359.90,263.31 L360.40,263.23 L360.90,263.15 L361.40,263.07 L361.90,262.99 L362.40,262.91 L362.90,262.83 L363.40,262.75 L363.90,262.66 L364.40,262.58 L364.90,262.50 L365.40,262.42 L365.90,262.33 L366.40,262.25 L366.90,262.17 L367.40,262.08 L367.90,262.00 L368.40,261.92 L368.90,261.83 L369.40,261.75 L369.90,261.66 L370.40,261.58 L370.90,261.50 L371.40,261.41 L371.90,261.32 L372.40,261.24 L372.90,261.15 L373.40,261.07 L373.90,260.98 L374.40,260.90 L374.90,260.81 L375.40,260.72 L375.90,260.64 L376.40,260.55 L376.90,260.46 L377.40,260.37 L377.90,260.29 L378.40,260.20 L378.90,260.11 L379.40,260.02 L379.90,259.93 L380.40,259.85 L380.90,259.76 L381.40,259.67 L381.90,259.58 L382.40,259.49 L382.90,259.40 L383.40,259.31 L383.90,259.22 L384.40,259.13 L384.90,259.04 L385.40,258.95 L385.90,258.86 L386.40,258.77 L386.90,258.68 L387.40,258.59 L387.90,258.50 L388.40,258.41 L388.90,258.31 L389.40,258.22 L389.90,258.13 L390.40,258.04 L390.90,257.95 L391.40,257.86 L391.90,257.76 L392.40,257.67 L392.90,257.58 L393.40,257.48 L393.90,257.39 L394.40,257.30 L394.90,257.21 L395.40,257.11 L395.90,257.02 L396.40,256.93 L396.90,256.83 L397.40,256.74 L397.90,256.64 L398.40,256.55 L398.90,256.45 L399.40,256.36 L399.90,256.27 L400.40,256.17 L400.90,256.08 L401.40,255.98 L401.90,255.89 L402.40,255.79 L402.90,255.70 L403.40,255.60 L403.90,255.50 L404.40,255.41 L404.90,255.31 L405.40,255.22 L405.90,255.12 L406.40,255.02 L406.90,254.93 L407.40,254.83 L407.90,254.74 L408.40,254.64 L408.90,254.54 L409.40,254.45 L409.90,254.35 L410.40,254.25 L410.90,254.15 L411.40,254.06 L411.90,253.96 L412.40,253.86 L412.90,253.76 L413.40,253.67 L413.90,253.57 L414.40,253.47 L414.90,253.37 L415.40,253.28 L415.90,253.18 L416.40,253.08 L416.90,252.98 L417.40,252.88 L417.90,252.78 L418.40,252.69 L418.90,252.59 L419.40,252.49 L419.90,252.39 L420.40,252.29 L420.90,252.19 L421.40,252.09 L421.90,251.99 L422.40,251.89 L422.90,251.79 L423.40,251.70 L423.90,251.60 L424.40,251.50 L424.90,251.40 L425.40,251.30 L425.90,251.20 L426.40,251.10 L426.90,251.00 L427.40,250.90 L427.90,250.80 L428.40,250.70 L428.90,250.60 L429.40,250.50 L429.90,250.40 L430.40,250.30 L430.90,250.20 L431.40,250.10 L431.90,250.00 L432.40,249.90 L432.90,249.80 L433.40,249.70 L433.90,249.60 L434.40,249.49 L434.90,249.39 L435.40,249.29 L435.90,249.19 L436.40,249.09 L436.90,248.99 L437.40,248.89 L437.90,248.79 L438.40,248.69 L438.90,248.59 L439.40,248.49 L439.90,248.39 L440.40,248.28 L440.90,248.18 L441.40,248.08 L441.90,247.98 L442.40,247.88 L442.90,247.78 L443.40,247.68 L443.90,247.58 L444.40,247.48 L444.90,247.37 L445.40,247.27 L445.90,247.17 L446.40,247.07 L446.90,246.97 L447.40,246.87 L447.90,246.77 L448.40,246.67 L448.90,246.56 L449.40,246.46 L449.90,246.36 L450.40,246.26 L450.90,246.16 L451.40,246.06 L451.90,245.96 L452.40,245.86 L452.90,245.75 L453.40,245.65 L453.90,245.55 L454.40,245.45 L454.90,245.35 L455.40,245.25 L455.90,245.15 L456.40,245.05 L456.90,244.94 L457.40,244.84 L457.90,244.74 L458.40,244.64 L458.90,244.54 L459.40,244.44 L459.90,244.34 L460.40,244.24 L460.90,244.13 L461.40,244.03 L461.90,243.93 L462.40,243.83 L462.90,243.73 L463.40,243.63 L463.90,243.53 L464.40,243.43 L464.90,243.33 L465.40,243.23 L465.90,243.13 L466.40,243.02 L466.90,242.92 L467.40,242.82 L467.90,242.72 L468.40,242.62 L468.90,242.52 L469.40,242.42 L469.90,242.32 L470.40,242.22 L470.90,242.12 L471.40,242.02 L471.90,241.92 L472.40,241.82 L472.90,241.72 L473.40,241.62 L473.90,241.52 L474.40,241.42 L474.90,241.32 L475.40,241.22 L475.90,241.12 L476.40,241.02 L476.90,240.92 L477.40,240.82 L477.90,240.72 L478.40,240.62 L478.90,240.52 L479.40,240.42 L479.90,240.32 L480.40,240.22 L480.90,240.13 L481.40,240.03 L481.90,239.93 L482.40,239.83 L482.90,239.73 L483.40,239.63 L483.90,239.53 L484.40,239.43 L484.90,239.34 L485.40,239.24 L485.90,239.14 L486.40,239.04 L486.90,238.94 L487.40,238.85 L487.90,238.75 L488.40,238.65 L488.90,238.55 L489.40,238.45 L489.90,238.36 L490.40,238.26 L490.90,238.16 L491.40,238.06 L491.90,237.97 L492.40,237.87 L492.90,237.77 L493.40,237.68 L493.90,237.58 L494.40,237.48 L494.90,237.39 L495.40,237.29 L495.90,237.19 L496.40,237.10 L496.90,237.00 L497.40,236.91 L497.90,236.81 L498.40,236.72 L498.90,236.62 L499.40,236.52 L499.90,236.43 L500.40,236.33 L500.90,236.24 L501.40,236.14 L501.90,236.05 L502.40,235.95 L502.90,235.86 L503.40,235.77 L503.70,235.71" stroke="#008000" stroke-width="2.31" fill="none" stroke-dasharray="7.35 6.83"/>
<path d="M203.40,204.85 L203.90,204.82 L204.40,204.79 L204.90,204.76 L205.40,204.74 L205.90,204.71 L206.40,204.68 L206.90,204.65 L207.40,204.63 L207.90,204.60 L208.40,204.57 L208.90,204.55 L209.40,204.52 L209.90,204.50 L210.40,204.47 L210.90,204.44 L211.40,204.42 L211.90,204.39 L212.40,204.37 L212.90,204.34 L213.40,204.32 L213.90,204.29 L214.40,204.27 L214.90,204.24 L215.40,204.22 L215.90,204.20 L216.40,204.17 L216.90,204.15 L217.40,204.12 L217.90,204.10 L218.40,204.08 L218.90,204.06 L219.40,204.03 L219.90,204.01 L220.40,203.99 L220.90,203.97 L221.40,203.94 L221.90,203.92 L222.40,203.90 L222.90,203.88 L223.40,203.86 L223.90,203.84 L224.40,203.81 L224.90,203.79 L225.40,203.77 L225.90,203.75 L226.40,203.73 L226.90,203.71 L227.40,203.69 L227.90,203.67 L228.40,203.65 L228.90,203.63 L229.40,203.61 L229.90,203.60 L230.40,203.58 L230.90,203.56 L231.40,203.54 L231.90,203.52 L232.40,203.50 L232.90,203.48 L233.40,203.47 L233.90,203.45 L234.40,203.43 L234.90,203.41 L235.40,203.40 L235.90,203.38 L236.40,203.36 L236.90,203.35 L237.40,203.33 L237.90,203.31 L238.40,203.30 L238.90,203.28 L239.40,203.27 L239.90,203.25 L240.40,203.23 L240.90,203.22 L241.40,203.20 L241.90,203.19 L242.40,203.17 L242.90,203.16 L243.40,203.15 L243.90,203.13 L244.40,203.12 L244.90,203.10 L245.40,203.09 L245.90,203.08 L246.40,203.06 L246.90,203.05 L247.40,203.04 L247.90,203.02 L248.40,203.01 L248.90,203.00 L249.40,202.99 L249.90,202.97 L250.40,202.96 L250.90,202.95 L251.40,202.94 L251.90,202.93 L252.40,202.92 L252.90,202.90 L253.40,202.89 L253.90,202.88 L254.40,202.87 L254.90,202.86 L255.40,202.85 L255.90,202.84 L256.40,202.83 L256.90,202.82 L257.40,202.81 L257.90,202.80 L258.40,202.79 L258.90,202.78 L259.40,202.77 L259.90,202.77 L260.40,202.76 L260.90,202.75 L261.40,202.74 L261.90,202.73 L262.40,202.72 L262.90,202.72 L263.40,202.71 L263.90,202.70 L264.40,202.69 L264.90,202.69 L265.40,202.68 L265.90,202.67 L266.40,202.67 L266.90,202.66 L267.40,202.65 L267.90,202.65 L268.40,202.64 L268.90,202.63 L269.40,202.63 L269.90,202.62 L270.40,202.62 L270.90,202.61 L271.40,202.61 L271.90,202.60 L272.40,202.60 L272.90,202.59 L273.40,202.59 L273.90,202.59 L274.40,202.58 L274.90,202.58 L275.40,202.57 L275.90,202.57 L276.40,202.57 L276.90,202.56 L277.40,202.56 L277.90,202.56 L278.40,202.56 L278.90,202.55 L279.40,202.55 L279.90,202.55 L280.40,202.55 L280.90,202.54 L281.40,202.54 L281.90,202.54 L282.40,202.54 L282.90,202.54 L283.40,202.54 L283.90,202.54 L284.40,202.54 L284.90,202.54 L285.40,202.54 L285.90,202.53 L286.40,202.53 L286.90,202.53 L287.40,202.54 L287.90,202.54 L288.40,202.54 L288.90,202.54 L289.40,202.54 L289.90,202.54 L290.40,202.54 L290.90,202.54 L291.40,202.54 L291.90,202.54 L292.40,202.55 L292.90,202.55 L293.40,202.55 L293.90,202.55 L294.40,202.56 L294.90,202.56 L295.40,202.56 L295.90,202.56 L296.40,202.57 L296.90,202.57 L297.40,202.57 L297.90,202.58 L298.40,202.58 L298.90,202.59 L299.40,202.59 L299.90,202.59 L300.40,202.60 L300.90,202.60 L301.40,202.61 L301.90,202.61 L302.40,202.62 L302.90,202.62 L303.40,202.63 L303.90,202.63 L304.40,202.64 L304.90,202.65 L305.40,202.65 L305.90,202.66 L306.40,202.66 L306.90,202.67 L307.40,202.68 L307.90,202.68 L308.40,202.69 L308.90,202.70 L309.40,202.71 L309.90,202.71 L310.40,202.72 L310.90,202.73 L311.40,202.74 L311.90,202.74 L312.40,202.75 L312.90,202.76 L313.40,202.77 L313.90,202.78 L314.40,202.79 L314.90,202.80 L315.40,202.81 L315.90,202.81 L316.40,202.82 L316.90,202.83 L317.40,202.84 L317.90,202.85 L318.40,202.86 L318.90,202.87 L319.40,202.88 L319.90,202.89 L320.40,202.91 L320.90,202.92 L321.40,202.93 L321.90,202.94 L322.40,202.95 L322.90,202.96 L323.40,202.97 L323.90,202.99 L324.40,203.00 L324.90,203.01 L325.40,203.02 L325.90,203.03 L326.40,203.05 L326.90,203.06 L327.40,203.07 L327.90,203.09 L328.40,203.10 L328.90,203.11 L329.40,203.13 L329.90,203.14 L330.40,203.15 L330.90,203.17 L331.40,203.18 L331.90,203.20 L332.40,203.21 L332.90,203.22 L333.40,203.24 L333.90,203.25 L334.40,203.27 L334.90,203.28 L335.40,203.30 L335.90,203.32 L336.40,203.33 L336.90,203.35 L337.40,203.36 L337.90,203.38 L338.40,203.40 L338.90,203.41 L339.40,203.43 L339.90,203.45 L340.40,203.46 L340.90,203.48 L341.40,203.50 L341.90,203.51 L342.40,203.53 L342.90,203.55 L343.40,203.57 L343.90,203.58 L344.40,203.60 L344.90,203.62 L345.40,203.64 L345.90,203.66 L346.40,203.68 L346.90,203.70 L347.40,203.71 L347.90,203.73 L348.40,203.75 L348.90,203.77 L349.40,203.79 L349.90,203.81 L350.40,203.83 L350.90,203.85 L351.40,203.87 L351.90,203.89 L352.40,203.91 L352.90,203.93 L353.40,203.95 L353.90,203.98 L354.40,204.00 L354.90,204.02 L355.40,204.04 L355.90,204.06 L356.40,204.08 L356.90,204.10 L357.40,204.13 L357.90,204.15 L358.40,204.17 L358.90,204.19 L359.40,204.22 L359.90,204.24 L360.40,204.26 L360.90,204.28 L361.40,204.31 L361.90,204.33 L362.40,204.35 L362.90,204.38 L363.40,204.40 L363.90,204.43 L364.40,204.45 L364.90,204.47 L365.40,204.50 L365.90,204.52 L366.40,204.55 L366.90,204.57 L367.40,204.60 L367.90,204.62 L368.40,204.65 L368.90,204.67 L369.40,204.70 L369.90,204.72 L370.40,204.75 L370.90,204.78 L371.40,204.80 L371.90,204.83 L372.40,204.85 L372.90,204.88 L373.40,204.91 L373.90,204.93 L374.40,204.96 L374.90,204.99 L375.40,205.02 L375.90,205.04 L376.40,205.07 L376.90,205.10 L377.40,205.13 L377.90,205.15 L378.40,205.18 L378.90,205.21 L379.40,205.24 L379.90,205.27 L380.40,205.30 L380.90,205.32 L381.40,205.35 L381.90,205.38 L382.40,205.41 L382.90,205.44 L383.40,205.47 L383.90,205.50 L384.40,205.53 L384.90,205.56 L385.40,205.59 L385.90,205.62 L386.40,205.65 L386.90,205.68 L387.40,205.71 L387.90,205.74 L388.40,205.77 L388.90,205.81 L389.40,205.84 L389.90,205.87 L390.40,205.90 L390.90,205.93 L391.40,205.96 L391.90,206.00 L392.40,206.03 L392.90,206.06 L393.40,206.09 L393.90,206.12 L394.40,206.16 L394.90,206.19 L395.40,206.22 L395.90,206.26 L396.40,206.29 L396.90,206.32 L397.40,206.36 L397.90,206.39 L398.40,206.42 L398.90,206.46 L399.40,206.49 L399.90,206.53 L400.40,206.56 L400.90,206.60 L401.40,206.63 L401.90,206.67 L402.40,206.70 L402.90,206.74 L403.40,206.78 L403.90,206.81 L404.40,206.85 L404.90,206.89 L405.40,206.92 L405.90,206.96 L406.40,207.00 L406.90,207.04 L407.40,207.08 L407.90,207.12 L408.40,207.15 L408.90,207.19 L409.40,207.23 L409.90,207.27 L410.40,207.31 L410.90,207.36 L411.40,207.40 L411.90,207.44 L412.40,207.48 L412.90,207.52 L413.40,207.57 L413.90,207.61 L414.40,207.65 L414.90,207.70 L415.40,207.74 L415.90,207.78 L416.40,207.83 L416.90,207.88 L417.40,207.92 L417.90,207.97 L418.40,208.02 L418.90,208.06 L419.40,208.11 L419.90,208.16 L420.40,208.21 L420.90,208.26 L421.40,208.31 L421.90,208.36 L422.40,208.41 L422.90,208.46 L423.40,208.51 L423.90,208.56 L424.40,208.62 L424.90,208.67 L425.40,208.72 L425.90,208.78 L426.40,208.83 L426.90,208.89 L427.40,208.94 L427.90,209.00 L428.40,209.06 L428.90,209.12 L429.40,209.18 L429.90,209.23 L430.40,209.29 L430.90,209.35 L431.40,209.42 L431.90,209.48 L432.40,209.54 L432.90,209.60 L433.40,209.67 L433.90,209.73 L434.40,209.79 L434.90,209.86 L435.40,209.93 L435.90,209.99 L436.40,210.06 L436.90,210.13 L437.40,210.20 L437.90,210.27 L438.40,210.34 L438.90,210.41 L439.40,210.48 L439.90,210.55 L440.40,210.63 L440.90,210.70 L441.40,210.78 L441.90,210.85 L442.40,210.93 L442.90,211.00 L443.40,211.08 L443.90,211.16 L444.40,211.24 L444.90,211.32 L445.40,211.40 L445.90,211.48 L446.40,211.57 L446.90,211.65 L447.40,211.73 L447.90,211.82 L448.40,211.90 L448.90,211.99 L449.40,212.08 L449.90,212.17 L450.40,212.26 L450.90,212.35 L451.40,212.44 L451.90,212.53 L452.40,212.62 L452.90,212.72 L453.40,212.81 L453.90,212.91 L454.40,213.00 L454.90,213.10 L455.40,213.20 L455.90,213.30 L456.40,213.40 L456.90,213.50 L457.40,213.60 L457.90,213.71 L458.40,213.81 L458.90,213.92 L459.40,214.02 L459.90,214.13 L460.40,214.24 L460.90,214.35 L461.40,214.46 L461.90,214.57 L462.40,214.68 L462.90,214.79 L463.40,214.91 L463.90,215.02 L464.40,215.14 L464.90,215.26 L465.40,215.38 L465.90,215.50 L466.40,215.62 L466.90,215.74 L467.40,215.86 L467.90,215.99 L468.40,216.11 L468.90,216.24 L469.40,216.36 L469.90,216.49 L470.40,216.62 L470.90,216.75 L471.40,216.88 L471.90,217.02 L472.40,217.15 L472.90,217.29 L473.40,217.42 L473.90,217.56 L474.40,217.70 L474.90,217.84 L475.40,217.98 L475.90,218.12 L476.40,218.27 L476.90,218.41 L477.40,218.56 L477.90,218.71 L478.40,218.85 L478.90,219.00 L479.40,219.16 L479.90,219.31 L480.40,219.46 L480.90,219.62 L481.40,219.77 L481.90,219.93 L482.40,220.09 L482.90,220.25 L483.40,220.41 L483.90,220.57 L484.40,220.74 L484.90,220.90 L485.40,221.07 L485.90,221.24 L486.40,221.41 L486.90,221.58 L487.40,221.75 L487.90,221.92 L488.40,222.10 L488.90,222.27 L489.40,222.45 L489.90,222.63 L490.40,222.81 L490.90,222.99 L491.40,223.17 L491.90,223.36 L492.40,223.54 L492.90,223.73 L493.40,223.92 L493.90,224.11 L494.40,224.30 L494.90,224.49 L495.40,224.69 L495.90,224.88 L496.40,225.08 L496.90,225.28 L497.40,225.48 L497.90,225.68 L498.40,225.89 L498.90,226.09 L499.40,226.30 L499.90,226.51 L500.40,226.72 L500.90,226.93 L501.40,227.14 L501.90,227.35 L502.40,227.57 L502.90,227.79 L503.40,228.00 L503.70,228.14" stroke="#0000ff" stroke-width="2.31" fill="none" stroke-dasharray="2.10 1.44"/>
<path d="M203.40,269.22 L203.90,269.28 L204.40,269.34 L204.90,269.40 L205.40,269.46 L205.90,269.51 L206.40,269.57 L206.90,269.63 L207.40,269.69 L207.90,269.74 L208.40,269.80 L208.90,269.85 L209.40,269.90 L209.90,269.96 L210.40,270.01 L210.90,270.06 L211.40,270.11 L211.90,270.16 L212.40,270.21 L212.90,270.26 L213.40,270.31 L213.90,270.36 L214.40,270.41 L214.90,270.46 L215.40,270.50 L215.90,270.55 L216.40,270.59 L216.90,270.64 L217.40,270.68 L217.90,270.73 L218.40,270.77 L218.90,270.81 L219.40,270.85 L219.90,270.89 L220.40,270.93 L220.90,270.97 L221.40,271.01 L221.90,271.05 L222.40,271.09 L222.90,271.12 L223.40,271.16 L223.90,271.20 L224.40,271.23 L224.90,271.27 L225.40,271.30 L225.90,271.34 L226.40,271.37 L226.90,271.40 L227.40,271.43 L227.90,271.46 L228.40,271.49 L228.90,271.52 L229.40,271.55 L229.90,271.58 L230.40,271.61 L230.90,271.64 L231.40,271.67 L231.90,271.69 L232.40,271.72 L232.90,271.74 L233.40,271.77 L233.90,271.79 L234.40,271.82 L234.90,271.84 L235.40,271.86 L235.90,271.88 L236.40,271.91 L236.90,271.93 L237.40,271.95 L237.90,271.97 L238.40,271.99 L238.90,272.00 L239.40,272.02 L239.90,272.04 L240.40,272.06 L240.90,272.07 L241.40,272.09 L241.90,272.10 L242.40,272.12 L242.90,272.13 L243.40,272.15 L243.90,272.16 L244.40,272.17 L244.90,272.18 L245.40,272.19 L245.90,272.21 L246.40,272.22 L246.90,272.23 L247.40,272.23 L247.90,272.24 L248.40,272.25 L248.90,272.26 L249.40,272.27 L249.90,272.27 L250.40,272.28 L250.90,272.28 L251.40,272.29 L251.90,272.29 L252.40,272.30 L252.90,272.30 L253.40,272.30 L253.90,272.31 L254.40,272.31 L254.90,272.31 L255.40,272.31 L255.90,272.31 L256.40,272.31 L256.90,272.31 L257.40,272.31 L257.90,272.30 L258.40,272.30 L258.90,272.30 L259.40,272.30 L259.90,272.29 L260.40,272.29 L260.90,272.28 L261.40,272.28 L261.90,272.27 L262.40,272.26 L262.90,272.26 L263.40,272.25 L263.90,272.24 L264.40,272.23 L264.90,272.22 L265.40,272.21 L265.90,272.20 L266.40,272.19 L266.90,272.18 L267.40,272.17 L267.90,272.16 L268.40,272.15 L268.90,272.13 L269.40,272.12 L269.90,272.11 L270.40,272.09 L270.90,272.08 L271.40,272.06 L271.90,272.05 L272.40,272.03 L272.90,272.01 L273.40,271.99 L273.90,271.98 L274.40,271.96 L274.90,271.94 L275.40,271.92 L275.90,271.90 L276.40,271.88 L276.90,271.86 L277.40,271.84 L277.90,271.82 L278.40,271.80 L278.90,271.77 L279.40,271.75 L279.90,271.73 L280.40,271.70 L280.90,271.68 L281.40,271.65 L281.90,271.63 L282.40,271.60 L282.90,271.58 L283.40,271.55 L283.90,271.52 L284.40,271.50 L284.90,271.47 L285.40,271.44 L285.90,271.41 L286.40,271.38 L286.90,271.35 L287.40,271.32 L287.90,271.29 L288.40,271.26 L288.90,271.23 L289.40,271.20 L289.90,271.16 L290.40,271.13 L290.90,271.10 L291.40,271.06 L291.90,271.03 L292.40,270.99 L292.90,270.96 L293.40,270.92 L293.90,270.89 L294.40,270.85 L294.90,270.81 L295.40,270.78 L295.90,270.74 L296.40,270.70 L296.90,270.66 L297.40,270.62 L297.90,270.59 L298.40,270.55 L298.90,270.51 L299.40,270.47 L299.90,270.42 L300.40,270.38 L300.90,270.34 L301.40,270.30 L301.90,270.26 L302.40,270.21 L302.90,270.17 L303.40,270.13 L303.90,270.08 L304.40,270.04 L304.90,269.99 L305.40,269.95 L305.90,269.90 L306.40,269.86 L306.90,269.81 L307.40,269.76 L307.90,269.71 L308.40,269.67 L308.90,269.62 L309.40,269.57 L309.90,269.52 L310.40,269.47 L310.90,269.42 L311.40,269.37 L311.90,269.32 L312.40,269.27 L312.90,269.22 L313.40,269.17 L313.90,269.12 L314.40,269.06 L314.90,269.01 L315.40,268.96 L315.90,268.90 L316.40,268.85 L316.90,268.80 L317.40,268.74 L317.90,268.69 L318.40,268.63 L318.90,268.58 L319.40,268.52 L319.90,268.46 L320.40,268.41 L320.90,268.35 L321.40,268.29 L321.90,268.23 L322.40,268.18 L322.90,268.12 L323.40,268.06 L323.90,268.00 L324.40,267.94 L324.90,267.88 L325.40,267.82 L325.90,267.76 L326.40,267.70 L326.90,267.64 L327.40,267.58 L327.90,267.51 L328.40,267.45 L328.90,267.39 L329.40,267.32 L329.90,267.26 L330.40,267.20 L330.90,267.13 L331.40,267.07 L331.90,267.00 L332.40,266.94 L332.90,266.87 L333.40,266.81 L333.90,266.74 L334.40,266.68 L334.90,266.61 L335.40,266.54 L335.90,266.47 L336.40,266.41 L336.90,266.34 L337.40,266.27 L337.90,266.20 L338.40,266.13 L338.90,266.06 L339.40,265.99 L339.90,265.92 L340.40,265.85 L340.90,265.78 L341.40,265.71 L341.90,265.64 L342.40,265.57 L342.90,265.50 L343.40,265.43 L343.90,265.35 L344.40,265.28 L344.90,265.21 L345.40,265.13 L345.90,265.06 L346.40,264.99 L346.90,264.91 L347.40,264.84 L347.90,264.76 L348.40,264.69 L348.90,264.61 L349.40,264.54 L349.90,264.46 L350.40,264.39 L350.90,264.31 L351.40,264.23 L351.90,264.16 L352.40,264.08 L352.90,264.00 L353.40,263.92 L353.90,263.84 L354.40,263.77 L354.90,263.69 L355.40,263.61 L355.90,263.53 L356.40,263.45 L356.90,263.37 L357.40,263.29 L357.90,263.21 L358.40,263.13 L358.90,263.05 L359.40,262.97 L359.90,262.88 L360.40,262.80 L360.90,262.72 L361.40,262.64 L361.90,262.56 L362.40,262.47 L362.90,262.39 L363.40,262.31 L363.90,262.22 L364.40,262.14 L364.90,262.06 L365.40,261.97 L365.90,261.89 L366.40,261.80 L366.90,261.72 L367.40,261.63 L367.90,261.55 L368.40,261.46 L368.90,261.37 L369.40,261.29 L369.90,261.20 L370.40,261.11 L370.90,261.03 L371.40,260.94 L371.90,260.85 L372.40,260.77 L372.90,260.68 L373.40,260.59 L373.90,260.50 L374.40,260.41 L374.90,260.32 L375.40,260.23 L375.90,260.15 L376.40,260.06 L376.90,259.97 L377.40,259.88 L377.90,259.79 L378.40,259.70 L378.90,259.61 L379.40,259.51 L379.90,259.42 L380.40,259.33 L380.90,259.24 L381.40,259.15 L381.90,259.06 L382.40,258.97 L382.90,258.87 L383.40,258.78 L383.90,258.69 L384.40,258.59 L384.90,258.50 L385.40,258.41 L385.90,258.31 L386.40,258.22 L386.90,258.13 L387.40,258.03 L387.90,257.94 L388.40,257.84 L388.90,257.75 L389.40,257.65 L389.90,257.56 L390.40,257.46 L390.90,257.37 L391.40,257.27 L391.90,257.18 L392.40,257.08 L392.90,256.99 L393.40,256.89 L393.90,256.79 L394.40,256.70 L394.90,256.60 L395.40,256.50 L395.90,256.40 L396.40,256.31 L396.90,256.21 L397.40,256.11 L397.90,256.01 L398.40,255.92 L398.90,255.82 L399.40,255.72 L399.90,255.62 L400.40,255.52 L400.90,255.42 L401.40,255.32 L401.90,255.22 L402.40,255.13 L402.90,255.03 L403.40,254.93 L403.90,254.83 L404.40,254.73 L404.90,254.63 L405.40,254.53 L405.90,254.42 L406.40,254.32 L406.90,254.22 L407.40,254.12 L407.90,254.02 L408.40,253.92 L408.90,253.82 L409.40,253.72 L409.90,253.62 L410.40,253.51 L410.90,253.41 L411.40,253.31 L411.90,253.21 L412.40,253.11 L412.90,253.00 L413.40,252.90 L413.90,252.80 L414.40,252.69 L414.90,252.59 L415.40,252.49 L415.90,252.39 L416.40,252.28 L416.90,252.18 L417.40,252.07 L417.90,251.97 L418.40,251.87 L418.90,251.76 L419.40,251.66 L419.90,251.56 L420.40,251.45 L420.90,251.35 L421.40,251.24 L421.90,251.14 L422.40,251.03 L422.90,250.93 L423.40,250.82 L423.90,250.72 L424.40,250.61 L424.90,250.51 L425.40,250.40 L425.90,250.30 L426.40,250.19 L426.90,250.08 L427.40,249.98 L427.90,249.87 L428.40,249.77 L428.90,249.66 L429.40,249.55 L429.90,249.45 L430.40,249.34 L430.90,249.24 L431.40,249.13 L431.90,249.02 L432.40,248.92 L432.90,248.81 L433.40,248.70 L433.90,248.60 L434.40,248.49 L434.90,248.38 L435.40,248.27 L435.90,248.17 L436.40,248.06 L436.90,247.95 L437.40,247.84 L437.90,247.74 L438.40,247.63 L438.90,247.52 L439.40,247.41 L439.90,247.31 L440.40,247.20 L440.90,247.09 L441.40,246.98 L441.90,246.87 L442.40,246.77 L442.90,246.66 L443.40,246.55 L443.90,246.44 L444.40,246.33 L444.90,246.22 L445.40,246.12 L445.90,246.01 L446.40,245.90 L446.90,245.79 L447.40,245.68 L447.90,245.57 L448.40,245.46 L448.90,245.35 L449.40,245.25 L449.90,245.14 L450.40,245.03 L450.90,244.92 L451.40,244.81 L451.90,244.70 L452.40,244.59 L452.90,244.48 L453.40,244.37 L453.90,244.26 L454.40,244.15 L454.90,244.05 L455.40,243.94 L455.90,243.83 L456.40,243.72 L456.90,243.61 L457.40,243.50 L457.90,243.39 L458.40,243.28 L458.90,243.17 L459.40,243.06 L459.90,242.95 L460.40,242.84 L460.90,242.73 L461.40,242.62 L461.90,242.51 L462.40,242.40 L462.90,242.29 L463.40,242.18 L463.90,242.08 L464.40,241.97 L464.90,241.86 L465.40,241.75 L465.90,241.64 L466.40,241.53 L466.90,241.42 L467.40,241.31 L467.90,241.20 L468.40,241.09 L468.90,240.98 L469.40,240.87 L469.90,240.76 L470.40,240.65 L470.90,240.54 L471.40,240.43 L471.90,240.32 L472.40,240.21 L472.90,240.10 L473.40,239.99 L473.90,239.88 L474.40,239.77 L474.90,239.66 L475.40,239.56 L475.90,239.45 L476.40,239.34 L476.90,239.23 L477.40,239.12 L477.90,239.01 L478.40,238.90 L478.90,238.79 L479.40,238.68 L479.90,238.57 L480.40,238.46 L480.90,238.35 L481.40,238.24 L481.90,238.14 L482.40,238.03 L482.90,237.92 L483.40,237.81 L483.90,237.70 L484.40,237.59 L484.90,237.48 L485.40,237.37 L485.90,237.26 L486.40,237.16 L486.90,237.05 L487.40,236.94 L487.90,236.83 L488.40,236.72 L488.90,236.61 L489.40,236.51 L489.90,236.40 L490.40,236.29 L490.90,236.18 L491.40,236.07 L491.90,235.96 L492.40,235.86 L492.90,235.75 L493.40,235.64 L493.90,235.53 L494.40,235.43 L494.90,235.32 L495.40,235.21 L495.90,235.10 L496.40,235.00 L496.90,234.89 L497.40,234.78 L497.90,234.67 L498.40,234.57 L498.90,234.46 L499.40,234.35 L499.90,234.25 L500.40,234.14 L500.90,234.03 L501.40,233.93 L501.90,233.82 L502.40,233.71 L502.90,233.61 L503.40,233.50 L503.70,233.44" stroke="#edb120" stroke-width="2.31" fill="none" stroke-dasharray="7.35 1.58 3.78 1.58"/>
</g>
<path d="M203.40,340.30v-3.15M203.40,199.50v3.15M230.70,340.30v-3.15M230.70,199.50v3.15M285.30,340.30v-3.15M285.30,199.50v3.15M339.90,340.30v-3.15M339.90,199.50v3.15M394.50,340.30v-3.15M394.50,199.50v3.15M449.10,340.30v-3.15M449.10,199.50v3.15M503.70,340.30v-3.15M503.70,199.50v3.15M203.40,199.50h3.15M503.70,199.50h-3.15M203.40,227.66h3.15M503.70,227.66h-3.15M203.40,255.82h3.15M503.70,255.82h-3.15M203.40,283.98h3.15M503.70,283.98h-3.15M203.40,312.14h3.15M503.70,312.14h-3.15M203.40,340.30h3.15M503.70,340.30h-3.15" stroke="#7a7a7a" stroke-width="1" fill="none"/>
<rect x="203.40" y="199.50" width="300.30" height="140.80" stroke="#7a7a7a" stroke-width="1.2" fill="none"/>
<text x="203.40" y="355.11" font-size="10.50" text-anchor="middle" class="sf">18</text>
<text x="230.70" y="355.11" font-size="10.50" text-anchor="middle" class="sf">20</text>
<text x="285.30" y="355.11" font-size="10.50" text-anchor="middle" class="sf">24</text>
<text x="339.90" y="355.11" font-size="10.50" text-anchor="middle" class="sf">28</text>
<text x="394.50" y="355.11" font-size="10.50" text-anchor="middle" class="sf">32</text>
<text x="449.10" y="355.11" font-size="10.50" text-anchor="middle" class="sf">36</text>
<text x="503.70" y="355.11" font-size="10.50" text-anchor="middle" class="sf">40</text>
<text x="198.68" y="203.28" font-size="10.50" text-anchor="end" class="sf">0</text>
<text x="198.68" y="231.44" font-size="10.50" text-anchor="end" class="sf">-5</text>
<text x="198.68" y="259.60" font-size="10.50" text-anchor="end" class="sf">-10</text>
<text x="198.68" y="287.76" font-size="10.50" text-anchor="end" class="sf">-15</text>
<text x="198.68" y="315.92" font-size="10.50" text-anchor="end" class="sf">-20</text>
<text x="198.68" y="344.08" font-size="10.50" text-anchor="end" class="sf">-25</text>
<text x="353.60" y="367.60" font-size="11.92" text-anchor="middle" class="sf">Frequency (GHz)</text>
<text transform="translate(179.20,270.40) rotate(-90)" x="0" y="0" font-size="11.92" text-anchor="middle" class="sf">S-Parameters (dB)</text>
<rect x="326.80" y="318.30" width="174.30" height="18.70" fill="#fff" stroke="#555" stroke-width="1"/>
<path d="M329.43,327.65h22.89" stroke="#ff0000" stroke-width="2.31" fill="none"/>
<text x="354.21" y="330.38" font-size="10.50" class="sf">S<tspan font-size="8.40" dx="0.53" dy="4.09">11</tspan></text>
<path d="M372.03,327.65h22.89" stroke="#008000" stroke-width="2.31" fill="none" stroke-dasharray="7.35 6.83"/>
<text x="396.81" y="330.38" font-size="10.50" class="sf">S<tspan font-size="8.40" dx="0.53" dy="4.09">21</tspan></text>
<path d="M414.62,327.65h22.89" stroke="#0072bd" stroke-width="2.31" fill="none" stroke-dasharray="2.10 1.44"/>
<text x="439.40" y="330.38" font-size="10.50" class="sf">S<tspan font-size="8.40" dx="0.53" dy="4.09">31</tspan></text>
<path d="M457.23,327.65h22.89" stroke="#edb120" stroke-width="2.31" fill="none" stroke-dasharray="7.35 1.58 3.78 1.58"/>
<text x="482.00" y="330.38" font-size="10.50" class="sf">S<tspan font-size="8.40" dx="0.53" dy="4.09">41</tspan></text>
<text x="345.40" y="385.00" font-size="11.55" text-anchor="middle" class="ss">(c)</text>
</svg>
</body></html>
